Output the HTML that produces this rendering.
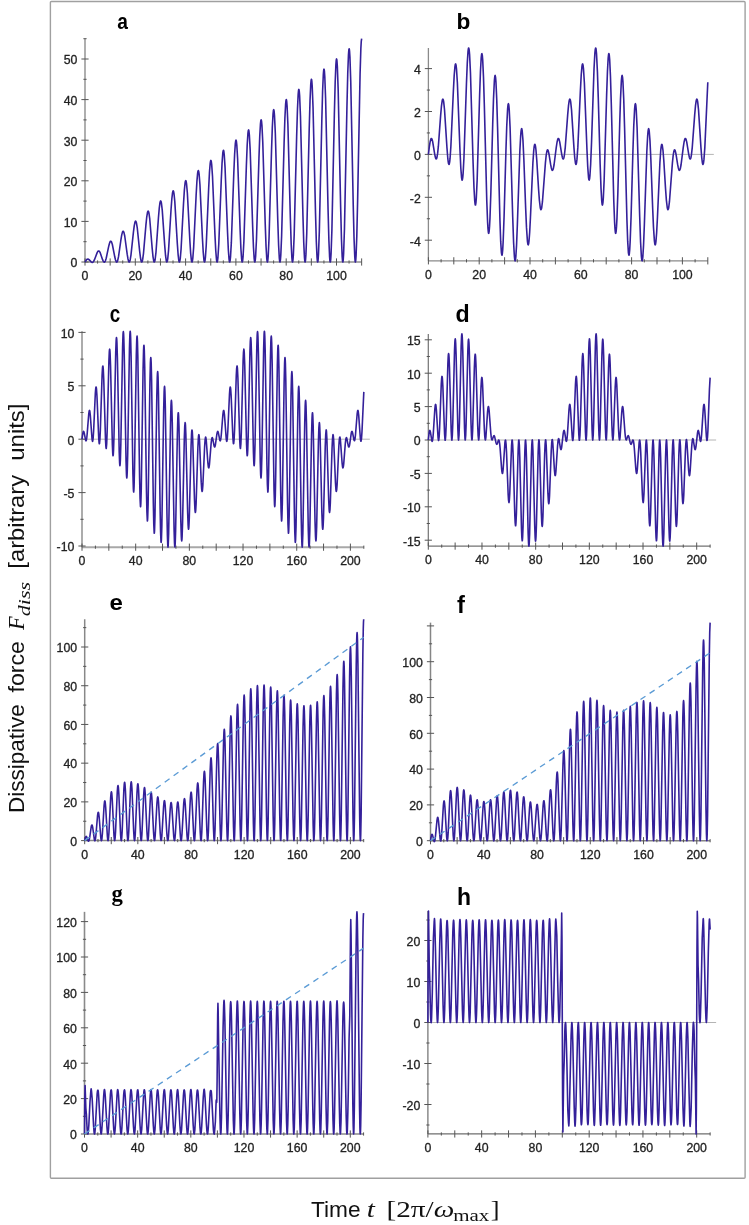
<!DOCTYPE html>
<html><head><meta charset="utf-8"><style>
html,body{margin:0;padding:0;background:#fff;}
svg{display:block;will-change:transform;}
text{font-family:"Liberation Sans",sans-serif;font-size:12.3px;fill:#222222;stroke:#222222;stroke-width:0.3px;}
text.let,text.ttl{stroke:none;}
text.let{font-weight:bold;font-size:23px;fill:#000;}
text.let.serif{font-family:"Liberation Serif",serif;}

.ttl{font-family:"Liberation Sans",sans-serif;font-size:22px;fill:#111;}
.ttl.it,.ttl .it{font-family:"Liberation Serif",serif;font-style:italic;font-size:24px;}
.ttl.sr{font-family:"Liberation Serif",serif;font-size:24px;}
.ttl.sub{font-size:17.5px;}
</style></head><body>
<svg width="749" height="1225" viewBox="0 0 749 1225">
<rect x="0" y="0" width="749" height="1225" fill="#fff"/>
<rect x="50.4" y="1.5" width="694.7" height="1176.8" rx="1" fill="none" stroke="#a0a0a0" stroke-width="1.4"/>
<g id="pa"><line x1="85" y1="262" x2="361.65" y2="262" stroke="#ababab" stroke-width="1.9"/><line x1="85" y1="38.7" x2="85" y2="262.42" stroke="#ababab" stroke-width="1.9"/><path d="M85 258.4V265.6M97.58 260.4V263.6M110.15 258.4V265.6M122.72 260.4V263.6M135.3 258.4V265.6M147.88 260.4V263.6M160.45 258.4V265.6M173.03 260.4V263.6M185.6 258.4V265.6M198.18 260.4V263.6M210.75 258.4V265.6M223.33 260.4V263.6M235.9 258.4V265.6M248.47 260.4V263.6M261.05 258.4V265.6M273.62 260.4V263.6M286.2 258.4V265.6M298.77 260.4V263.6M311.35 258.4V265.6M323.93 260.4V263.6M336.5 258.4V265.6M349.07 260.4V263.6M361.65 258.4V265.6M81.4 262H88.6M83.4 241.7H86.6M81.4 221.4H88.6M83.4 201.1H86.6M81.4 180.8H88.6M83.4 160.5H86.6M81.4 140.2H88.6M83.4 119.9H86.6M81.4 99.6H88.6M83.4 79.3H86.6M81.4 59H88.6M83.4 38.7H86.6" stroke="#555555" stroke-width="1" fill="none"/><text x="85" y="280" text-anchor="middle">0</text><text x="135.3" y="280" text-anchor="middle">20</text><text x="185.6" y="280" text-anchor="middle">40</text><text x="235.9" y="280" text-anchor="middle">60</text><text x="286.2" y="280" text-anchor="middle">80</text><text x="336.5" y="280" text-anchor="middle">100</text><text x="77.4" y="267.3" text-anchor="end">0</text><text x="77.4" y="226.7" text-anchor="end">10</text><text x="77.4" y="186.1" text-anchor="end">20</text><text x="77.4" y="145.5" text-anchor="end">30</text><text x="77.4" y="104.9" text-anchor="end">40</text><text x="77.4" y="64.3" text-anchor="end">50</text><path d="M85.00 262.00 86.61 259.74 87.25 259.24 87.88 259.08 88.43 259.22 89.02 259.61 90.90 261.64 91.59 262.21 92.31 262.41 92.99 262.12 93.66 261.31 94.38 259.92 97.27 252.39 97.99 251.29 98.67 250.93 99.03 251.04 99.41 251.37 100.19 252.71 102.49 259.39 103.26 261.19 103.98 262.08 104.32 262.16 104.65 262.01 105.03 261.55 105.42 260.76 106.21 258.23 108.58 246.90 109.36 243.72 110.07 241.83 110.43 241.35 110.77 241.20 111.14 241.40 111.53 242.01 112.35 244.51 114.75 256.78 115.53 260.05 116.25 261.79 116.59 262.09 116.93 262.01 117.32 261.45 117.71 260.39 118.52 256.68 120.95 239.56 121.74 234.85 122.46 232.11 122.80 231.44 123.14 231.21 123.53 231.51 123.92 232.39 124.74 236.01 127.19 254.13 127.98 258.95 128.70 261.53 129.04 262.02 129.38 262.00 129.77 261.33 130.16 259.98 130.97 255.12 133.43 232.17 134.22 225.93 134.94 222.32 135.27 221.44 135.61 221.15 136.00 221.54 136.39 222.70 137.22 227.53 139.68 251.36 140.47 257.73 141.19 261.22 141.52 261.94 141.70 262.05 141.86 262.00 142.25 261.26 142.64 259.65 143.47 253.58 145.93 224.93 146.73 217.01 147.45 212.51 147.79 211.42 148.13 211.05 148.52 211.53 148.91 212.97 149.74 218.96 152.20 248.64 152.99 256.56 153.71 260.93 154.05 261.86 154.23 262.04 154.39 262.00 154.78 261.17 155.17 259.28 156.00 252.05 158.46 217.51 159.27 208.03 159.98 202.66 160.32 201.36 160.66 200.93 160.85 201.07 161.05 201.52 161.44 203.25 162.27 210.42 164.74 245.87 165.54 255.47 166.26 260.69 166.60 261.81 166.78 262.02 166.94 262.00 167.33 261.03 167.72 258.83 168.55 250.39 171.01 210.05 171.82 199.02 172.52 192.87 172.86 191.33 173.20 190.80 173.39 190.95 173.59 191.46 173.99 193.54 174.82 201.91 177.29 243.14 178.09 254.31 178.80 260.34 179.14 261.71 179.31 262.00 179.48 262.00 179.87 260.99 180.27 258.44 181.10 248.82 183.56 202.71 184.37 190.09 185.08 182.96 185.42 181.24 185.76 180.67 185.95 180.86 186.15 181.46 186.54 183.77 187.37 193.30 189.84 240.30 190.64 253.07 191.36 260.09 191.70 261.66 191.87 261.99 192.04 262.00 192.43 260.86 192.82 258.11 193.65 247.35 196.13 195.22 196.93 181.06 197.63 173.17 197.97 171.20 198.31 170.54 198.50 170.73 198.70 171.39 199.11 174.06 199.94 184.80 202.40 237.61 203.21 251.94 203.92 259.83 204.26 261.59 204.44 261.98 204.60 262.00 204.99 260.74 205.38 257.69 206.21 245.74 208.69 187.79 209.49 172.06 210.20 163.31 210.54 161.13 210.88 160.40 211.06 160.62 211.27 161.35 211.67 164.33 212.50 176.26 214.96 234.86 215.77 250.77 216.48 259.54 216.82 261.52 217.00 261.96 217.16 262.00 217.55 260.65 217.94 257.31 218.77 244.18 221.25 180.41 222.05 163.10 222.76 153.46 223.10 151.07 223.44 150.26 223.63 150.50 223.83 151.30 224.23 154.57 225.06 167.67 227.53 232.05 228.34 249.78 229.05 259.24 229.39 261.45 229.56 261.94 229.73 262.00 230.12 260.56 230.51 256.95 231.34 242.66 233.81 173.09 234.62 154.18 235.32 143.64 235.66 141.02 236.00 140.11 236.19 140.37 236.39 141.24 236.79 144.78 237.62 159.03 240.09 229.19 240.90 248.55 241.61 258.92 241.95 261.36 242.12 261.92 242.29 262.00 242.68 260.49 243.08 256.45 243.91 240.90 246.37 165.83 247.19 145.04 247.90 133.70 248.24 130.90 248.41 130.18 248.58 129.97 248.76 130.27 248.97 131.24 249.36 134.96 250.19 150.34 252.66 226.64 253.47 247.28 254.17 258.57 254.51 261.26 254.69 261.89 254.85 262.00 255.24 260.43 255.64 256.13 256.47 239.45 258.95 158.22 259.75 136.18 260.46 123.91 260.80 120.86 261.14 119.83 261.33 120.13 261.53 121.15 261.93 125.30 262.76 141.94 265.22 223.70 266.04 246.25 266.75 258.35 267.09 261.22 267.26 261.89 267.43 262.00 267.82 260.29 268.21 255.84 269.04 238.06 271.51 151.04 272.33 127.06 273.03 113.98 273.37 110.75 273.55 109.93 273.71 109.68 273.90 110.03 274.10 111.15 274.49 115.45 275.32 133.18 277.80 221.12 278.60 244.92 279.32 258.14 279.66 261.18 279.84 261.88 280.00 261.99 280.39 260.15 280.78 255.37 281.61 236.34 284.09 143.47 284.89 118.26 285.60 104.22 285.94 100.73 286.28 99.54 286.46 99.88 286.67 101.04 287.07 105.77 287.90 124.75 290.36 218.09 291.18 243.88 291.88 257.75 292.22 261.06 292.40 261.85 292.56 262.00 292.95 260.11 293.36 254.90 294.19 234.62 296.65 136.37 297.47 109.15 298.17 94.30 298.51 90.62 298.69 89.68 298.85 89.39 299.04 89.78 299.24 91.03 299.63 95.88 300.46 115.93 302.94 215.49 303.75 242.83 304.46 257.52 304.80 261.02 304.97 261.84 305.14 262.00 305.53 259.98 305.92 254.65 306.75 233.32 309.22 128.83 310.03 100.41 310.75 84.38 311.09 80.52 311.26 79.53 311.43 79.24 311.61 79.67 311.82 81.01 312.21 86.18 313.04 107.47 315.51 212.89 316.32 241.42 317.02 257.11 317.36 260.88 317.54 261.80 317.70 262.00 317.89 261.46 318.09 259.97 318.49 254.20 319.32 231.62 321.80 121.28 322.60 91.33 323.31 74.66 323.65 70.51 323.82 69.43 323.99 69.10 324.18 69.51 324.38 70.88 324.78 76.49 325.61 99.02 328.07 209.74 328.89 240.35 329.60 256.87 329.94 260.83 330.11 261.79 330.28 262.00 330.46 261.42 330.67 259.84 331.07 253.74 331.90 229.93 334.36 114.30 335.18 82.24 335.88 64.75 336.22 60.41 336.40 59.29 336.56 58.95 336.75 59.40 336.95 60.86 337.36 66.80 338.19 90.56 340.65 207.11 341.47 239.29 342.17 256.63 342.51 260.79 342.69 261.79 342.85 262.00 343.04 261.38 343.24 259.71 343.63 253.55 344.46 228.71 346.94 106.78 347.75 73.16 348.46 54.84 348.80 50.31 348.97 49.15 349.14 48.80 349.33 49.29 349.53 50.84 349.92 56.84 350.75 81.62 353.22 204.48 354.04 238.23 354.75 256.39 355.09 260.74 355.26 261.78 355.43 262.00 355.76 260.12 356.10 255.15 356.81 235.66 357.63 200.28 360.07 74.14 360.88 48.00 361.27 41.28 361.65 38.70" stroke="#34209a" stroke-width="1.6" fill="none" stroke-linejoin="round"/><text id="La" class="let" transform="translate(117.17,28.54) scale(0.8333,0.9715)" x="0" y="0">a</text></g>
<g id="pb"><line x1="428.4" y1="154.4" x2="713.8" y2="154.4" stroke="#b4b4b4" stroke-width="1"/><line x1="428.4" y1="260.83" x2="707.8" y2="260.83" stroke="#8a8a8a" stroke-width="1.3"/><line x1="428.4" y1="47.97" x2="428.4" y2="260.83" stroke="#8a8a8a" stroke-width="1.3"/><path d="M428.4 257.23V264.43M441.1 259.23V262.43M453.8 257.23V264.43M466.5 259.23V262.43M479.2 257.23V264.43M491.9 259.23V262.43M504.6 257.23V264.43M517.3 259.23V262.43M530 257.23V264.43M542.7 259.23V262.43M555.4 257.23V264.43M568.1 259.23V262.43M580.8 257.23V264.43M593.5 259.23V262.43M606.2 257.23V264.43M618.9 259.23V262.43M631.6 257.23V264.43M644.3 259.23V262.43M657 257.23V264.43M669.7 259.23V262.43M682.4 257.23V264.43M695.1 259.23V262.43M707.8 257.23V264.43M424.8 240.2H432M426.8 218.75H430M424.8 197.3H432M426.8 175.85H430M424.8 154.4H432M426.8 132.95H430M424.8 111.5H432M426.8 90.05H430M424.8 68.6H432" stroke="#555555" stroke-width="1" fill="none"/><text x="428.4" y="278.83" text-anchor="middle">0</text><text x="479.2" y="278.83" text-anchor="middle">20</text><text x="530" y="278.83" text-anchor="middle">40</text><text x="580.8" y="278.83" text-anchor="middle">60</text><text x="631.6" y="278.83" text-anchor="middle">80</text><text x="682.4" y="278.83" text-anchor="middle">100</text><text x="420.8" y="245.5" text-anchor="end">-4</text><text x="420.8" y="202.6" text-anchor="end">-2</text><text x="420.8" y="159.7" text-anchor="end">0</text><text x="420.8" y="116.8" text-anchor="end">2</text><text x="420.8" y="73.9" text-anchor="end">4</text><path d="M428.40 154.40 429.38 146.51 430.11 141.85 430.80 139.18 431.14 138.57 431.47 138.46 431.77 138.74 432.06 139.37 432.69 141.81 434.69 154.04 435.42 157.53 435.82 158.60 436.19 158.95 436.54 158.63 436.90 157.63 437.62 153.41 438.37 146.19 440.64 115.40 441.42 106.46 442.18 100.78 442.55 99.45 442.73 99.17 442.90 99.14 443.30 99.94 443.69 101.94 444.52 109.73 446.98 147.96 447.79 158.28 448.19 161.69 448.57 163.75 448.94 164.47 449.11 164.35 449.29 163.91 449.69 161.82 450.08 158.20 450.90 146.05 453.37 90.99 454.18 75.65 454.94 66.52 455.31 64.40 455.49 63.97 455.67 63.92 456.07 65.28 456.49 68.83 457.37 82.69 459.96 149.80 460.81 168.01 461.59 177.92 461.97 179.91 462.16 180.14 462.33 179.88 462.73 177.70 463.12 173.35 463.96 157.48 466.45 83.69 467.27 63.16 468.02 51.41 468.39 48.64 468.57 48.06 468.75 48.00 469.17 49.89 469.59 54.61 470.48 73.21 473.10 162.95 473.98 187.80 474.77 201.47 475.15 204.48 475.34 205.04 475.52 204.99 475.91 202.92 476.30 198.20 477.14 180.22 479.64 94.55 480.47 70.94 481.22 57.51 481.59 54.36 481.77 53.72 481.94 53.66 482.31 55.41 482.69 59.85 483.48 76.89 484.33 105.03 486.79 201.26 487.61 222.51 487.99 228.79 488.36 232.35 488.56 233.22 488.75 233.32 489.16 231.25 489.56 226.14 490.00 217.64 490.88 191.92 492.70 124.39 493.50 98.86 494.36 80.75 494.77 76.57 494.97 75.63 495.18 75.47 495.56 77.29 495.94 81.82 496.74 99.50 497.58 127.56 499.94 220.35 500.70 241.41 501.42 252.83 501.84 255.12 501.95 255.19 502.06 255.03 502.28 254.07 502.71 249.66 503.16 241.57 504.09 216.32 505.93 150.92 506.73 126.55 507.60 109.14 508.02 104.92 508.22 103.96 508.42 103.72 508.63 104.21 508.83 105.42 509.24 109.94 510.10 127.99 512.72 217.35 513.60 242.59 514.39 256.53 514.77 259.86 514.96 260.64 515.15 260.83 515.50 259.69 515.84 256.70 516.55 245.12 517.36 224.75 519.84 151.32 520.68 135.45 521.07 131.10 521.47 128.92 521.64 128.66 521.82 128.86 522.19 130.69 522.95 140.14 523.82 158.37 525.67 208.41 526.49 227.38 527.41 241.03 527.85 244.16 528.07 244.81 528.29 244.86 528.62 243.85 528.96 241.42 529.66 232.55 530.44 217.54 532.90 162.75 533.72 150.60 534.11 146.98 534.51 144.89 534.69 144.45 534.86 144.33 535.22 145.00 535.58 146.85 535.96 150.01 536.78 160.27 538.56 189.02 539.37 200.12 540.26 207.78 540.69 209.40 540.91 209.67 541.13 209.57 541.44 208.78 541.76 207.26 542.45 201.71 545.43 162.61 546.18 155.39 546.90 151.17 547.25 150.19 547.59 149.85 547.95 150.14 548.33 151.10 549.08 154.54 550.59 164.14 551.26 167.70 551.98 169.97 552.33 170.34 552.67 170.21 553.00 169.62 553.34 168.52 554.07 164.74 556.26 147.36 557.04 142.25 557.77 139.25 558.13 138.59 558.49 138.46 558.78 138.76 559.07 139.41 559.71 141.87 561.65 153.82 562.32 157.15 562.66 158.26 562.99 158.85 563.31 158.91 563.62 158.48 564.01 157.16 564.42 154.88 565.24 147.59 567.68 114.90 568.47 105.97 569.20 100.66 569.56 99.42 569.74 99.16 569.90 99.14 570.30 99.94 570.69 101.94 571.53 109.88 573.95 147.59 574.74 157.76 575.45 163.27 575.80 164.35 575.96 164.47 576.13 164.33 576.55 162.74 576.96 159.40 577.83 147.40 580.39 90.44 581.22 75.05 581.96 66.42 582.31 64.40 582.49 63.97 582.67 63.92 583.07 65.28 583.49 68.83 584.37 82.69 586.95 149.49 587.77 167.34 588.51 177.28 588.86 179.58 589.04 180.06 589.22 180.10 589.58 178.81 589.93 175.72 590.67 163.94 591.52 142.86 594.03 68.46 594.87 53.16 595.27 49.35 595.65 47.97 595.86 48.23 596.08 49.25 596.51 53.55 597.42 71.87 598.26 97.39 600.13 163.77 601.01 188.38 601.79 201.74 602.17 204.59 602.36 205.07 602.54 204.94 602.94 202.69 603.33 197.81 604.16 179.87 606.63 94.96 607.46 71.24 608.19 57.81 608.55 54.57 608.73 53.80 608.89 53.62 609.08 54.03 609.27 55.11 609.67 59.47 610.47 76.54 611.33 105.03 613.79 201.26 614.61 222.51 614.99 228.79 615.36 232.35 615.56 233.22 615.75 233.32 616.16 231.25 616.56 226.14 617.00 217.64 617.88 191.92 619.70 124.39 620.50 98.86 621.36 80.75 621.77 76.57 621.97 75.63 622.18 75.47 622.56 77.29 622.94 81.82 623.74 99.50 624.58 127.56 626.94 220.35 627.70 241.41 628.42 252.83 628.84 255.12 628.95 255.19 629.06 255.03 629.28 254.07 629.71 249.66 630.16 241.57 631.09 216.32 632.93 150.92 633.73 126.55 634.60 109.14 635.02 104.92 635.22 103.96 635.42 103.72 635.63 104.21 635.83 105.42 636.24 109.94 637.10 127.99 639.72 217.35 640.59 242.29 641.38 256.38 641.76 259.78 641.95 260.60 642.14 260.83 642.48 259.76 642.83 256.84 643.55 245.12 644.36 224.75 646.84 151.32 647.68 135.45 648.07 131.10 648.47 128.92 648.64 128.66 648.83 128.89 649.20 130.78 649.96 140.35 650.83 158.68 652.66 208.08 653.48 227.13 654.40 240.90 654.83 244.05 655.04 244.76 655.26 244.89 655.59 243.97 655.93 241.64 656.64 232.75 657.43 217.81 659.91 162.52 660.75 150.32 661.14 146.80 661.53 144.81 661.70 144.43 661.88 144.33 662.23 145.05 662.96 150.01 663.78 160.27 665.56 189.02 666.37 200.12 667.26 207.78 667.69 209.40 667.91 209.67 668.13 209.57 668.44 208.78 668.76 207.26 669.45 201.71 672.43 162.61 673.18 155.39 673.90 151.17 674.25 150.19 674.59 149.85 674.95 150.14 675.33 151.10 676.08 154.54 677.59 164.14 678.26 167.70 678.98 169.97 679.33 170.34 679.67 170.21 680.00 169.62 680.34 168.52 681.07 164.74 683.26 147.36 684.04 142.25 684.77 139.25 685.13 138.59 685.49 138.46 685.78 138.76 686.07 139.41 686.71 141.87 688.65 153.82 689.32 157.15 689.66 158.26 689.99 158.85 690.31 158.91 690.62 158.48 691.01 157.16 691.42 154.88 692.24 147.59 694.68 114.90 695.47 105.97 696.20 100.66 696.56 99.42 696.74 99.16 696.90 99.14 697.30 99.94 697.69 101.94 698.53 109.88 700.95 147.59 701.74 157.76 702.43 163.15 702.76 164.29 702.92 164.47 703.09 164.39 703.51 162.96 703.94 159.65 704.82 147.62 707.80 82.25" stroke="#34209a" stroke-width="1.6" fill="none" stroke-linejoin="round"/><text id="Lb" class="let" transform="translate(456.50,29.00) scale(0.9858,0.9965)" x="0" y="0">b</text></g>
<g id="pc"><line x1="82" y1="439.2" x2="369.82" y2="439.2" stroke="#b4b4b4" stroke-width="1"/><line x1="82" y1="547.18" x2="363.82" y2="547.18" stroke="#a8a8a8" stroke-width="1.9"/><line x1="82" y1="331.22" x2="82" y2="547.18" stroke="#a8a8a8" stroke-width="1.9"/><path d="M82 543.58V550.78M95.42 545.58V548.78M108.84 543.58V550.78M122.26 545.58V548.78M135.68 543.58V550.78M149.1 545.58V548.78M162.52 543.58V550.78M175.94 545.58V548.78M189.36 543.58V550.78M202.78 545.58V548.78M216.2 543.58V550.78M229.62 545.58V548.78M243.04 543.58V550.78M256.46 545.58V548.78M269.88 543.58V550.78M283.3 545.58V548.78M296.72 543.58V550.78M310.14 545.58V548.78M323.56 543.58V550.78M336.98 545.58V548.78M350.4 543.58V550.78M363.82 545.58V548.78M78.4 546H85.6M80.4 519.3H83.6M78.4 492.6H85.6M80.4 465.9H83.6M78.4 439.2H85.6M80.4 412.5H83.6M78.4 385.8H85.6M80.4 359.1H83.6M78.4 332.4H85.6" stroke="#555555" stroke-width="1" fill="none"/><text x="82" y="565.18" text-anchor="middle">0</text><text x="135.68" y="565.18" text-anchor="middle">40</text><text x="189.36" y="565.18" text-anchor="middle">80</text><text x="243.04" y="565.18" text-anchor="middle">120</text><text x="296.72" y="565.18" text-anchor="middle">160</text><text x="350.4" y="565.18" text-anchor="middle">200</text><text x="74.4" y="551.3" text-anchor="end">-10</text><text x="74.4" y="497.9" text-anchor="end">-5</text><text x="74.4" y="444.5" text-anchor="end">0</text><text x="74.4" y="391.1" text-anchor="end">5</text><text x="74.4" y="337.7" text-anchor="end">10</text><path d="M82.00 439.20 82.88 433.11 83.23 431.78 83.58 431.39 83.89 431.80 84.21 432.90 85.61 440.20 85.81 440.68 86.01 440.81 86.37 440.08 86.75 437.91 87.14 434.25 88.72 414.25 89.11 411.34 89.30 410.65 89.48 410.45 89.68 410.77 89.89 411.72 90.31 415.40 91.99 438.55 92.39 441.07 92.57 441.34 92.76 440.98 93.17 437.81 93.61 431.18 95.32 393.42 95.71 388.54 95.90 387.34 96.08 386.97 96.29 387.54 96.51 389.22 96.96 396.02 98.71 438.13 99.10 442.90 99.29 443.74 99.39 443.79 99.48 443.59 99.90 439.51 100.35 430.12 102.09 374.97 102.48 368.11 102.67 366.45 102.85 365.95 103.06 366.81 103.28 369.22 103.73 379.06 105.51 439.85 105.91 446.87 106.10 448.29 106.19 448.50 106.28 448.36 106.71 443.59 107.15 431.78 108.91 360.59 109.30 351.86 109.48 349.75 109.67 349.14 109.88 350.26 110.09 353.34 110.55 365.89 112.35 444.36 112.75 453.46 112.93 455.41 113.03 455.76 113.12 455.70 113.33 454.08 113.54 450.29 113.99 436.32 115.74 351.18 116.13 340.75 116.32 338.25 116.50 337.52 116.72 338.85 116.94 342.68 117.40 357.76 119.20 451.77 119.60 462.75 119.78 465.18 119.88 465.68 119.97 465.70 120.18 464.00 120.39 459.79 120.84 443.99 122.60 347.04 122.98 335.20 123.17 332.37 123.35 331.55 123.57 333.08 123.79 337.45 124.25 354.61 126.06 461.88 126.45 474.45 126.65 477.38 126.84 478.02 127.04 476.20 127.25 471.78 127.70 454.53 129.45 348.15 129.84 335.20 130.03 332.10 130.21 331.22 130.43 332.91 130.65 337.71 131.10 356.51 132.92 473.93 133.31 487.85 133.51 491.18 133.69 492.05 133.90 490.27 134.11 485.69 134.55 467.50 136.32 353.92 136.71 340.21 136.89 336.96 137.08 336.06 137.26 337.50 137.46 341.49 137.85 356.95 139.61 478.45 140.05 498.47 140.46 506.52 140.55 506.75 140.65 506.32 140.85 503.50 141.26 489.58 143.07 369.50 143.52 350.90 143.73 346.47 143.94 345.20 144.13 346.67 144.32 350.78 144.72 366.70 146.47 491.26 146.91 512.04 147.32 520.60 147.41 520.91 147.51 520.56 147.71 517.71 148.12 503.68 149.93 382.19 150.38 363.34 150.60 358.82 150.80 357.49 150.99 358.93 151.19 363.01 151.59 379.27 153.33 503.08 153.76 523.79 154.17 532.78 154.27 533.21 154.37 532.92 154.57 530.24 154.98 516.27 156.80 396.21 157.25 377.54 157.46 373.03 157.67 371.65 157.86 373.08 158.06 377.10 158.46 393.03 160.18 512.30 160.59 532.25 160.99 541.56 161.10 542.28 161.14 542.35 161.20 542.24 161.41 539.99 161.84 526.59 163.66 410.20 164.11 392.14 164.32 387.74 164.54 386.34 164.73 387.70 164.94 391.71 165.34 407.36 167.00 516.35 167.39 535.34 167.76 545.28 167.98 547.17 168.21 545.82 168.67 533.33 170.53 422.88 170.97 405.90 171.19 401.72 171.40 400.33 171.62 401.77 171.83 405.98 172.28 422.89 174.09 529.87 174.49 542.86 174.69 545.95 174.87 546.85 175.05 545.75 175.24 542.78 175.61 531.09 177.36 434.41 177.81 418.61 178.02 414.40 178.23 412.70 178.32 412.72 178.42 413.22 178.60 415.65 178.99 426.38 180.82 521.21 181.29 536.32 181.51 539.85 181.73 540.87 181.93 539.62 182.14 536.19 182.58 522.45 184.35 436.81 184.74 426.31 185.11 422.63 185.29 423.17 185.48 425.35 185.86 434.46 187.65 512.51 188.11 525.06 188.32 528.14 188.53 529.26 188.72 528.65 188.90 526.54 189.29 518.01 191.07 445.95 191.53 434.19 191.74 431.18 191.96 429.94 192.14 430.27 192.32 431.83 192.70 438.87 194.47 499.34 194.92 509.18 195.14 511.59 195.35 512.45 195.53 511.95 195.71 510.37 196.10 503.74 197.88 447.58 198.34 438.19 198.57 435.71 198.78 434.65 198.87 434.60 198.96 434.77 199.14 435.80 199.51 440.50 201.24 482.38 201.69 489.18 201.91 490.86 202.12 491.43 202.30 491.09 202.48 489.97 202.86 485.30 204.63 446.48 205.09 439.93 205.53 437.17 205.70 437.09 205.87 437.55 206.24 440.11 207.89 463.00 208.31 466.68 208.52 467.63 208.72 467.95 208.89 467.77 209.07 467.12 209.45 464.46 211.13 443.43 211.56 439.72 211.97 437.86 212.13 437.61 212.29 437.62 212.64 438.38 213.99 445.47 214.31 446.59 214.61 447.01 214.79 446.93 214.98 446.58 215.36 445.08 216.88 434.19 217.25 432.35 217.60 431.48 217.78 431.39 217.96 431.54 218.33 432.57 219.84 440.30 220.04 440.71 220.22 440.81 220.57 440.08 220.95 437.91 221.34 434.25 222.88 414.58 223.24 411.74 223.57 410.52 223.68 410.45 223.79 410.55 224.01 411.28 224.47 414.89 226.22 438.79 226.59 441.09 226.77 441.34 226.96 440.98 227.37 437.81 227.81 431.18 229.50 393.75 229.86 388.96 230.21 387.01 230.32 387.00 230.43 387.27 230.66 388.76 231.12 395.37 232.93 438.46 233.31 442.95 233.50 443.76 233.59 443.79 233.68 443.59 234.10 439.51 234.55 430.12 236.27 375.43 236.64 368.61 236.99 365.98 237.11 366.04 237.22 366.49 237.44 368.65 237.91 378.32 239.73 440.17 240.11 446.95 240.30 448.31 240.40 448.50 240.48 448.36 240.91 443.59 241.35 431.78 243.09 360.98 243.47 352.27 243.83 349.16 244.05 349.95 244.27 352.85 244.74 365.42 246.56 444.57 246.95 453.46 247.13 455.41 247.23 455.76 247.32 455.70 247.53 454.08 247.74 450.29 248.19 436.32 249.94 351.42 250.31 341.13 250.67 337.53 250.89 338.55 251.11 342.08 251.58 357.19 253.41 452.02 253.80 462.86 253.99 465.23 254.08 465.70 254.18 465.68 254.39 463.90 254.59 459.79 255.04 443.99 256.79 347.31 257.16 335.62 257.35 332.65 257.53 331.55 257.75 332.83 257.97 336.94 258.43 353.97 260.26 462.16 260.66 474.59 260.85 477.38 261.04 478.02 261.24 476.20 261.45 471.78 261.90 454.53 263.65 348.15 264.04 335.35 264.22 332.17 264.40 331.22 264.59 332.46 264.79 336.10 265.19 350.79 266.95 465.48 267.38 484.37 267.79 491.87 267.89 492.05 267.99 491.60 268.18 488.82 268.59 475.33 270.40 359.52 270.85 341.56 271.07 337.28 271.28 336.07 271.50 338.00 271.71 343.03 272.16 362.65 274.03 489.94 274.50 504.70 274.72 506.75 274.95 505.28 275.32 495.52 275.70 476.54 277.34 365.68 277.75 350.01 277.95 346.30 278.14 345.20 278.33 346.67 278.52 350.78 278.92 366.70 280.67 491.26 281.11 512.04 281.52 520.60 281.61 520.91 281.71 520.56 281.91 517.71 282.32 503.68 284.13 382.19 284.58 363.34 284.80 358.82 285.00 357.49 285.19 358.93 285.39 363.01 285.79 379.27 287.53 503.08 287.96 523.79 288.37 532.78 288.47 533.21 288.57 532.92 288.77 530.24 289.18 516.27 291.00 396.21 291.45 377.54 291.66 373.03 291.87 371.65 292.06 373.08 292.26 377.10 292.66 393.03 294.38 512.30 294.79 532.25 295.19 541.56 295.30 542.28 295.34 542.35 295.40 542.24 295.61 539.99 296.04 526.59 297.86 410.20 298.31 392.14 298.52 387.74 298.74 386.34 298.93 387.70 299.14 391.71 299.54 407.36 301.20 516.35 301.59 535.34 301.96 545.28 302.18 547.17 302.41 545.82 302.87 533.33 304.73 422.88 305.17 405.90 305.39 401.72 305.60 400.33 305.82 401.77 306.03 405.98 306.48 422.89 308.29 529.87 308.68 542.71 308.88 545.88 309.07 546.85 309.25 545.83 309.43 542.92 309.81 531.09 311.56 434.41 312.01 418.61 312.21 414.50 312.42 412.72 312.52 412.70 312.61 413.17 312.80 415.54 313.19 426.38 315.02 521.21 315.48 536.17 315.70 539.78 315.92 540.88 316.10 539.97 316.28 537.40 316.66 526.98 318.41 442.08 318.86 428.11 319.27 422.72 319.37 422.63 319.46 422.95 319.65 424.84 320.04 433.83 321.86 512.98 322.33 525.43 322.55 528.39 322.76 529.26 322.94 528.44 323.12 526.23 323.51 517.42 325.24 446.84 325.69 434.94 326.11 430.06 326.20 429.90 326.30 430.09 326.49 431.45 326.87 438.23 328.69 499.89 329.15 509.56 329.37 511.83 329.59 512.43 329.95 509.96 330.32 503.12 332.05 448.28 332.50 438.89 332.92 434.81 333.01 434.61 333.10 434.64 333.29 435.45 333.68 440.05 335.48 483.03 335.94 489.64 336.16 491.11 336.27 491.39 336.38 491.40 336.73 489.50 337.10 484.65 338.79 447.22 339.23 440.59 339.64 437.42 339.83 437.06 340.01 437.31 340.38 439.61 342.13 463.51 342.59 467.12 342.81 467.85 342.92 467.95 343.03 467.88 343.36 466.66 343.72 463.82 345.26 444.15 345.65 440.49 346.03 438.32 346.38 437.59 346.56 437.69 346.76 438.10 348.27 445.83 348.64 446.86 348.82 447.01 349.00 446.92 349.35 446.05 349.72 444.21 351.24 433.32 351.62 431.82 351.81 431.47 351.99 431.39 352.29 431.81 352.61 432.93 353.96 440.02 354.31 440.78 354.47 440.79 354.63 440.54 355.04 438.68 355.47 434.97 357.15 413.94 357.53 411.28 357.71 410.63 357.88 410.45 358.08 410.77 358.29 411.72 358.71 415.40 360.36 438.29 360.72 440.82 360.89 441.30 361.06 441.24 361.51 438.54 361.96 432.04 363.82 391.87" stroke="#34209a" stroke-width="1.6" fill="none" stroke-linejoin="round"/><text id="Lc" class="let" transform="translate(109.74,322.00) scale(0.8182,1.0189)" x="0" y="0">c</text></g>
<g id="pd"><line x1="428.3" y1="440" x2="716.12" y2="440" stroke="#b4b4b4" stroke-width="1"/><line x1="428.3" y1="546.11" x2="710.12" y2="546.11" stroke="#727272" stroke-width="1.2"/><line x1="428.3" y1="333.89" x2="428.3" y2="546.11" stroke="#727272" stroke-width="1.2"/><path d="M428.3 542.51V549.71M441.72 544.51V547.71M455.14 542.51V549.71M468.56 544.51V547.71M481.98 542.51V549.71M495.4 544.51V547.71M508.82 542.51V549.71M522.24 544.51V547.71M535.66 542.51V549.71M549.08 544.51V547.71M562.5 542.51V549.71M575.92 544.51V547.71M589.34 542.51V549.71M602.76 544.51V547.71M616.18 542.51V549.71M629.6 544.51V547.71M643.02 542.51V549.71M656.44 544.51V547.71M669.86 542.51V549.71M683.28 544.51V547.71M696.7 542.51V549.71M710.12 544.51V547.71M424.7 540.2H431.9M426.7 523.5H429.9M424.7 506.8H431.9M426.7 490.1H429.9M424.7 473.4H431.9M426.7 456.7H429.9M424.7 440H431.9M426.7 423.3H429.9M424.7 406.6H431.9M426.7 389.9H429.9M424.7 373.2H431.9M426.7 356.5H429.9M424.7 339.8H431.9" stroke="#555555" stroke-width="1" fill="none"/><text x="428.3" y="564.11" text-anchor="middle">0</text><text x="481.98" y="564.11" text-anchor="middle">40</text><text x="535.66" y="564.11" text-anchor="middle">80</text><text x="589.34" y="564.11" text-anchor="middle">120</text><text x="643.02" y="564.11" text-anchor="middle">160</text><text x="696.7" y="564.11" text-anchor="middle">200</text><text x="420.7" y="545.5" text-anchor="end">-15</text><text x="420.7" y="512.1" text-anchor="end">-10</text><text x="420.7" y="478.7" text-anchor="end">-5</text><text x="420.7" y="445.3" text-anchor="end">0</text><text x="420.7" y="411.9" text-anchor="end">5</text><text x="420.7" y="378.5" text-anchor="end">10</text><text x="420.7" y="345.1" text-anchor="end">15</text><path d="M428.30 440.00 429.16 432.55 429.50 430.93 429.84 430.41 430.13 430.85 430.45 432.13 431.81 440.67 432.00 441.21 432.19 441.36 432.55 440.43 432.92 437.82 433.30 433.34 434.84 409.03 435.22 405.52 435.41 404.66 435.59 404.38 435.78 404.74 435.98 405.82 436.39 410.09 438.03 437.30 438.41 440.20 438.59 440.51 438.77 440.06 439.18 436.32 439.60 428.56 441.27 384.11 441.65 378.30 441.83 376.87 442.02 376.38 442.22 376.96 442.42 378.78 442.86 386.34 444.57 433.93 444.96 439.30 445.15 440.22 445.24 440.24 445.33 439.99 445.73 435.50 446.16 425.10 447.86 363.94 448.24 356.16 448.43 354.20 448.61 353.59 448.82 354.44 449.03 356.95 449.46 367.09 451.20 431.17 451.59 438.52 451.78 439.97 451.87 440.16 451.96 440.00 452.36 435.14 452.79 423.12 454.50 351.01 454.88 341.90 455.07 339.62 455.25 338.88 455.46 339.86 455.66 342.74 456.10 354.41 457.86 429.21 458.25 437.88 458.43 439.74 458.53 440.07 458.62 439.99 459.03 435.09 459.45 422.69 461.15 346.60 461.53 337.04 461.72 334.65 461.90 333.88 462.11 334.90 462.32 337.91 462.76 350.32 464.53 428.38 464.92 437.59 465.12 439.64 465.21 440.01 465.31 439.98 465.70 435.44 466.12 423.76 467.82 350.99 468.21 341.91 468.40 339.75 468.59 339.15 468.94 342.30 469.31 351.06 471.04 423.67 471.49 435.61 471.69 438.68 471.90 439.98 472.08 439.68 472.26 438.06 472.63 430.76 474.36 367.50 474.81 357.39 475.02 354.96 475.22 354.16 475.40 354.75 475.58 356.57 475.95 363.94 477.71 425.74 478.16 436.00 478.58 439.93 478.67 440.00 478.75 439.83 478.93 438.74 479.30 433.49 481.00 387.24 481.44 379.86 481.64 378.05 481.85 377.44 482.03 377.86 482.21 379.18 482.58 384.53 484.34 429.03 484.79 436.64 485.23 439.85 485.40 439.98 485.56 439.52 485.92 436.82 487.56 411.84 487.98 407.85 488.19 406.85 488.39 406.53 488.56 406.76 488.74 407.46 489.11 410.38 490.79 432.97 491.23 437.13 491.67 439.42 491.97 439.98 492.29 439.80 493.50 436.27 493.78 435.77 494.05 435.65 494.36 435.97 494.68 436.82 495.98 442.69 496.59 444.26 496.90 444.33 497.23 443.88 498.23 440.81 498.59 440.09 498.78 440.00 498.96 440.16 499.31 441.27 499.69 443.82 500.09 447.97 501.62 468.93 501.96 471.94 502.28 473.35 502.40 473.47 502.51 473.41 502.73 472.69 503.19 468.80 504.93 442.64 505.31 440.21 505.49 440.01 505.67 440.49 506.08 444.22 506.51 451.83 508.18 494.71 508.53 500.19 508.87 502.48 508.98 502.54 509.09 502.28 509.31 500.72 509.77 493.48 511.54 445.88 511.92 440.87 512.10 440.04 512.20 440.02 512.28 440.27 512.69 444.79 513.12 455.04 514.81 515.19 515.18 522.86 515.53 525.80 515.64 525.78 515.74 525.32 515.96 523.11 516.42 513.09 518.19 448.56 518.58 441.54 518.76 440.14 518.86 439.98 518.95 440.16 519.35 445.05 519.78 457.03 521.48 528.53 521.84 537.48 522.19 540.82 522.30 540.77 522.41 540.20 522.62 537.55 523.07 525.97 524.86 450.57 525.25 442.06 525.43 440.26 525.53 439.96 525.62 440.07 526.02 445.09 526.45 457.58 528.15 533.58 528.54 543.16 528.73 545.45 528.91 546.11 529.09 545.23 529.27 542.84 529.65 533.40 531.35 457.31 531.77 444.91 532.18 440.01 532.26 439.92 532.36 440.22 532.55 442.03 532.94 450.59 534.71 526.05 535.16 537.74 535.38 540.43 535.49 541.01 535.59 541.08 535.79 539.81 536.00 536.79 536.42 525.03 538.14 452.45 538.52 443.36 538.88 439.89 538.97 439.88 539.06 440.18 539.24 441.81 539.61 449.18 541.34 512.91 541.77 523.05 541.98 525.56 542.19 526.41 542.37 525.80 542.55 523.93 542.93 516.41 544.66 454.10 545.11 443.81 545.53 439.81 545.62 439.73 545.70 439.92 545.88 441.05 546.24 446.33 547.94 493.66 548.38 501.22 548.58 503.04 548.78 503.62 548.96 503.16 549.14 501.77 549.51 496.28 551.23 450.69 551.68 442.96 552.11 439.64 552.27 439.52 552.44 440.03 552.80 443.01 554.41 469.91 554.82 474.18 555.02 475.26 555.21 475.62 555.39 475.36 555.56 474.56 555.93 471.28 557.56 445.85 557.98 441.29 558.39 439.01 558.54 438.69 558.70 438.66 559.04 439.51 560.35 447.83 560.66 449.13 560.96 449.59 561.13 449.47 561.31 449.03 561.68 447.19 563.16 433.91 563.53 431.63 563.86 430.54 564.03 430.41 564.20 430.56 564.57 431.74 566.04 440.79 566.23 441.26 566.41 441.35 566.76 440.40 567.12 437.76 567.51 433.25 569.00 409.52 569.35 406.03 569.67 404.49 569.78 404.38 569.89 404.48 570.10 405.30 570.55 409.47 572.25 437.52 572.62 440.22 572.80 440.50 572.97 440.06 573.38 436.32 573.80 428.56 575.45 384.51 575.81 378.82 576.15 376.45 576.26 376.40 576.36 376.69 576.58 378.33 577.03 385.75 578.79 434.31 579.17 439.35 579.35 440.22 579.44 440.24 579.53 439.99 579.93 435.50 580.36 425.10 582.05 364.29 582.41 356.64 582.76 353.64 582.86 353.65 582.97 354.10 583.19 356.34 583.64 366.29 585.41 431.34 585.79 438.52 585.98 439.97 586.07 440.16 586.16 440.00 586.56 435.14 586.99 423.12 588.69 351.21 589.06 342.24 589.41 338.92 589.51 338.99 589.62 339.57 589.84 342.26 590.29 353.95 592.06 429.41 592.45 437.97 592.64 439.78 592.74 440.08 592.83 439.97 593.23 434.95 593.65 422.44 595.35 346.60 595.74 336.93 595.93 334.59 596.11 333.89 596.29 334.72 596.47 337.06 596.86 346.63 598.56 422.67 598.98 435.05 599.38 439.95 599.47 440.04 599.57 439.74 599.75 437.94 600.14 429.43 601.92 354.25 602.37 342.56 602.59 339.85 602.80 339.17 603.00 340.39 603.21 343.49 603.64 355.21 605.36 427.59 605.74 436.56 606.10 439.98 606.28 439.68 606.46 438.06 606.83 430.76 608.56 367.50 609.01 357.39 609.22 354.96 609.42 354.16 609.60 354.75 609.78 356.57 610.15 363.94 611.91 425.74 612.36 436.00 612.78 439.93 612.87 440.00 612.95 439.83 613.13 438.74 613.50 433.49 615.20 387.24 615.64 379.86 615.84 378.05 616.05 377.44 616.23 377.86 616.41 379.18 616.78 384.53 618.54 429.03 618.99 436.64 619.43 439.85 619.60 439.98 619.76 439.52 620.12 436.82 621.76 411.84 622.18 407.85 622.39 406.85 622.59 406.53 622.76 406.76 622.94 407.46 623.31 410.38 624.99 432.97 625.43 437.13 625.87 439.42 626.17 439.98 626.49 439.80 627.70 436.27 627.98 435.77 628.25 435.65 628.56 435.97 628.88 436.82 630.18 442.69 630.79 444.26 631.10 444.33 631.43 443.88 632.43 440.81 632.79 440.09 632.98 440.00 633.16 440.16 633.51 441.27 633.89 443.82 634.29 447.97 635.82 468.93 636.16 471.94 636.48 473.35 636.60 473.47 636.71 473.41 636.93 472.69 637.39 468.80 639.13 442.64 639.51 440.21 639.69 440.01 639.87 440.49 640.28 444.22 640.71 451.83 642.38 494.71 642.73 500.19 643.07 502.48 643.18 502.54 643.29 502.28 643.51 500.72 643.97 493.48 645.74 445.88 646.12 440.87 646.30 440.04 646.40 440.02 646.48 440.27 646.89 444.79 647.32 455.04 649.01 515.19 649.38 522.86 649.73 525.80 649.84 525.78 649.94 525.32 650.16 523.11 650.62 513.09 652.39 448.56 652.78 441.54 652.96 440.14 653.06 439.98 653.15 440.16 653.55 445.05 653.98 457.03 655.68 528.53 656.04 537.48 656.39 540.82 656.50 540.77 656.61 540.20 656.82 537.55 657.27 525.97 659.06 450.57 659.45 442.06 659.63 440.26 659.73 439.96 659.82 440.07 660.22 445.09 660.65 457.58 662.35 533.58 662.73 543.05 662.92 545.40 663.10 546.11 663.28 545.29 663.47 542.96 663.85 533.40 665.55 457.56 665.97 445.05 666.36 440.05 666.46 439.92 666.55 440.19 666.74 441.94 667.14 450.59 668.91 526.05 669.36 537.74 669.58 540.43 669.79 541.09 670.14 537.76 670.51 528.79 672.20 457.11 672.63 445.00 673.03 440.03 673.12 439.84 673.22 440.00 673.40 441.41 673.79 448.66 675.56 513.51 676.01 523.56 676.22 525.85 676.33 526.34 676.44 526.37 676.78 523.46 677.15 515.71 678.84 454.90 679.27 444.50 679.67 440.01 679.76 439.76 679.85 439.78 680.03 440.65 680.41 445.69 682.17 494.25 682.62 501.67 682.84 503.31 682.94 503.60 683.05 503.55 683.39 501.18 683.75 495.49 685.39 451.59 685.82 443.77 686.22 439.97 686.39 439.50 686.57 439.75 686.94 442.41 688.65 470.53 689.10 474.70 689.31 475.52 689.42 475.62 689.53 475.51 689.85 473.97 690.20 470.48 691.69 446.75 692.08 442.24 692.44 439.60 692.79 438.65 692.97 438.74 693.16 439.21 694.63 448.26 695.00 449.44 695.17 449.59 695.34 449.46 695.67 448.37 696.04 446.09 697.52 432.81 697.89 430.97 698.07 430.53 698.24 430.41 698.54 430.87 698.85 432.17 700.16 440.49 700.50 441.34 700.66 441.31 700.81 440.99 701.22 438.71 701.64 434.15 703.27 408.72 703.64 405.44 703.81 404.64 703.99 404.38 704.18 404.74 704.38 405.82 704.79 410.09 706.40 436.99 706.76 439.97 706.93 440.48 707.09 440.36 707.49 437.45 707.91 430.59 709.45 388.95 710.12 377.67" stroke="#34209a" stroke-width="1.6" fill="none" stroke-linejoin="round"/><text id="Ld" class="let" transform="translate(455.43,322.00) scale(1.0083,1.0070)" x="0" y="0">d</text></g>
<g id="pe"><line x1="84.7" y1="840.6" x2="363.69" y2="840.6" stroke="#888888" stroke-width="1.5"/><line x1="84.7" y1="619.25" x2="84.7" y2="841.19" stroke="#888888" stroke-width="1.5"/><path d="M84.7 837V844.2M97.98 839V842.2M111.27 837V844.2M124.56 839V842.2M137.84 837V844.2M151.12 839V842.2M164.41 837V844.2M177.69 839V842.2M190.98 837V844.2M204.26 839V842.2M217.55 837V844.2M230.83 839V842.2M244.12 837V844.2M257.41 839V842.2M270.69 837V844.2M283.98 839V842.2M297.26 837V844.2M310.55 839V842.2M323.83 837V844.2M337.12 839V842.2M350.4 837V844.2M363.69 839V842.2M81.1 840.6H88.3M83.1 821.24H86.3M81.1 801.88H88.3M83.1 782.52H86.3M81.1 763.16H88.3M83.1 743.8H86.3M81.1 724.44H88.3M83.1 705.08H86.3M81.1 685.72H88.3M83.1 666.36H86.3M81.1 647H88.3M83.1 627.64H86.3" stroke="#555555" stroke-width="1" fill="none"/><text x="84.7" y="858.6" text-anchor="middle">0</text><text x="137.84" y="858.6" text-anchor="middle">40</text><text x="190.98" y="858.6" text-anchor="middle">80</text><text x="244.12" y="858.6" text-anchor="middle">120</text><text x="297.26" y="858.6" text-anchor="middle">160</text><text x="350.4" y="858.6" text-anchor="middle">200</text><text x="77.1" y="845.9" text-anchor="end">0</text><text x="77.1" y="807.18" text-anchor="end">20</text><text x="77.1" y="768.46" text-anchor="end">40</text><text x="77.1" y="729.74" text-anchor="end">60</text><text x="77.1" y="691.02" text-anchor="end">80</text><text x="77.1" y="652.3" text-anchor="end">100</text><path d="M84.70 840.60 85.55 837.36 85.89 836.66 86.22 836.43 86.51 836.62 86.83 837.18 88.17 840.89 88.55 841.19 88.91 840.79 89.27 839.65 89.65 837.69 91.18 827.06 91.56 825.51 91.91 825.00 92.11 825.15 92.31 825.62 92.72 827.51 94.34 839.44 94.72 840.70 94.90 840.82 95.08 840.62 95.47 838.94 95.89 835.49 97.55 815.65 97.93 813.08 98.11 812.46 98.29 812.25 98.49 812.51 98.70 813.34 99.13 816.73 100.81 837.91 101.19 840.28 101.38 840.70 101.56 840.61 101.96 838.53 102.39 833.79 104.08 805.58 104.46 802.03 104.64 801.17 104.82 800.88 105.03 801.26 105.23 802.40 105.66 807.06 107.38 836.52 107.76 839.93 107.95 840.60 108.04 840.68 108.13 840.60 108.53 838.22 108.97 832.35 110.66 797.61 111.04 793.26 111.22 792.17 111.40 791.82 111.61 792.30 111.81 793.70 112.25 799.48 113.97 835.39 114.36 839.61 114.54 840.50 114.64 840.65 114.73 840.59 115.14 837.99 115.56 831.50 117.26 792.06 117.64 787.16 117.82 785.97 118.00 785.57 118.20 786.08 118.41 787.63 118.85 794.06 120.59 834.67 120.97 839.40 121.16 840.43 121.34 840.60 121.75 837.97 122.17 831.13 123.87 789.21 124.25 784.00 124.44 782.70 124.61 782.29 124.82 782.85 125.03 784.51 125.47 791.32 127.21 834.16 127.60 839.27 127.78 840.38 127.97 840.59 128.37 838.00 128.79 831.10 130.49 788.75 130.87 783.53 131.05 782.27 131.23 781.84 131.41 782.26 131.59 783.51 131.97 788.71 133.68 831.21 134.11 838.11 134.32 839.90 134.53 840.61 134.70 840.33 134.89 839.17 135.27 834.25 137.00 792.62 137.44 785.98 137.65 784.37 137.85 783.81 138.03 784.20 138.21 785.40 138.59 790.39 140.31 831.46 140.74 838.13 140.95 839.87 141.15 840.59 141.33 840.37 141.52 839.32 141.90 834.76 143.63 795.79 144.07 789.58 144.28 788.04 144.49 787.54 144.67 787.93 144.85 789.07 145.23 793.76 146.95 832.04 147.38 838.26 147.58 839.89 147.79 840.59 147.97 840.41 148.16 839.47 148.53 835.33 150.27 799.76 150.71 794.08 150.92 792.66 151.12 792.20 151.30 792.55 151.49 793.63 151.87 797.93 153.58 832.68 154.01 838.39 154.42 840.57 154.61 840.46 154.79 839.64 155.18 835.88 156.92 803.66 157.36 798.54 157.57 797.27 157.77 796.86 157.95 797.17 158.14 798.15 158.52 802.04 160.23 833.33 160.65 838.48 161.06 840.56 161.24 840.51 161.43 839.78 161.83 836.34 163.58 806.75 164.02 802.10 164.23 800.95 164.44 800.58 164.62 800.90 164.81 801.82 165.20 805.58 166.85 833.54 167.26 838.27 167.64 840.45 167.84 840.60 168.05 840.03 168.47 836.75 170.25 808.42 170.69 803.99 170.90 802.88 171.11 802.52 171.31 802.88 171.52 803.94 171.96 808.31 173.77 836.95 174.23 840.26 174.45 840.64 174.67 840.21 175.02 837.81 175.40 833.28 177.00 807.06 177.40 803.28 177.59 802.33 177.78 802.00 177.99 802.36 178.20 803.48 178.64 807.96 180.40 836.55 180.80 839.92 181.00 840.57 181.10 840.65 181.19 840.57 181.59 838.48 182.01 833.56 183.71 803.62 184.09 799.83 184.28 798.90 184.46 798.61 184.66 799.01 184.88 800.25 185.31 805.19 187.05 836.12 187.43 839.70 187.61 840.51 187.79 840.63 188.00 839.98 188.21 838.43 188.65 832.68 190.38 797.82 190.75 793.58 190.93 792.55 191.11 792.20 191.32 792.66 191.53 794.08 191.97 799.79 193.69 835.38 194.06 839.51 194.24 840.45 194.41 840.65 194.63 839.93 194.84 838.16 195.28 831.31 197.02 789.58 197.40 784.61 197.58 783.37 197.76 782.95 197.93 783.36 198.11 784.59 198.49 789.60 200.21 832.07 200.63 838.64 200.84 840.23 201.04 840.66 201.22 840.05 201.41 838.46 201.79 832.38 203.54 781.91 203.98 773.91 204.19 771.96 204.39 771.29 204.57 771.79 204.75 773.27 205.12 779.31 206.84 830.20 207.26 838.16 207.47 840.11 207.67 840.66 207.85 839.96 208.04 838.09 208.42 830.87 210.17 770.59 210.61 761.03 210.81 758.69 211.02 757.89 211.20 758.47 211.38 760.24 211.75 767.43 213.47 828.28 213.90 837.71 214.10 840.01 214.30 840.65 214.48 839.87 214.67 837.69 215.05 829.24 216.80 758.44 217.24 747.24 217.44 744.51 217.65 743.58 217.86 744.49 218.07 747.34 218.51 758.79 220.22 829.84 220.59 838.11 220.76 840.11 220.94 840.64 221.15 839.39 221.36 836.05 221.81 822.90 223.55 742.02 223.92 732.44 224.10 730.07 224.28 729.28 224.46 730.09 224.64 732.49 225.01 742.19 226.73 823.81 227.16 836.65 227.37 839.73 227.57 840.64 227.77 839.37 227.99 835.74 228.43 821.14 230.18 730.13 230.55 719.43 230.73 716.79 230.91 715.91 231.11 717.13 231.32 720.66 231.76 735.26 233.49 826.75 233.85 837.30 234.03 839.89 234.20 840.63 234.41 839.23 234.62 835.23 235.07 819.15 236.81 719.84 237.18 708.14 237.36 705.26 237.54 704.32 237.74 705.65 237.95 709.52 238.39 725.46 240.11 825.27 240.49 837.00 240.67 839.81 240.84 840.62 241.04 839.13 241.26 834.83 241.70 817.89 243.44 711.73 243.81 699.24 243.99 696.16 244.17 695.15 244.37 696.56 244.58 700.68 245.02 717.66 246.75 824.30 247.12 836.75 247.30 839.73 247.48 840.61 247.69 838.97 247.89 834.57 248.33 816.81 250.07 706.22 250.44 693.14 250.62 689.91 250.80 688.83 251.00 690.28 251.21 694.56 251.65 712.21 253.38 823.31 253.76 836.55 253.94 839.67 254.12 840.61 254.32 838.96 254.53 834.45 254.97 816.24 256.69 703.42 257.07 689.99 257.25 686.65 257.42 685.51 257.63 686.96 257.84 691.47 258.28 709.58 260.02 822.92 260.39 836.42 260.57 839.62 260.75 840.61 260.96 838.98 261.16 834.48 261.60 816.54 263.33 702.91 263.70 689.48 263.88 686.16 264.06 685.05 264.24 686.17 264.42 689.50 264.80 703.25 266.51 815.76 266.94 834.03 267.15 838.73 267.35 840.57 267.53 839.87 267.71 836.82 268.10 823.48 269.85 710.56 270.28 692.76 270.49 688.46 270.70 687.01 270.88 688.12 271.06 691.41 271.43 704.98 273.15 815.93 273.58 834.00 273.79 838.69 273.98 840.55 274.16 839.93 274.35 837.01 274.74 824.05 276.48 713.82 276.92 696.41 277.13 692.18 277.33 690.74 277.51 691.80 277.69 694.98 278.07 708.16 279.78 816.31 280.22 834.02 280.42 838.65 280.62 840.54 280.71 840.53 280.81 839.94 280.99 837.09 281.38 824.51 283.12 717.67 283.56 700.84 283.77 696.77 283.98 695.40 284.15 696.44 284.34 699.69 284.72 712.62 286.43 817.08 286.85 834.03 287.26 840.52 287.35 840.55 287.44 840.03 287.63 837.35 288.02 825.05 289.77 721.68 290.21 705.37 290.41 701.41 290.62 700.06 290.80 701.05 290.98 704.17 291.37 716.93 293.06 817.41 293.48 833.83 293.88 840.44 293.97 840.59 294.06 840.21 294.26 837.73 294.66 825.85 296.42 724.75 296.85 708.91 297.06 705.08 297.27 703.78 297.45 704.84 297.64 707.96 298.03 720.83 299.68 816.54 300.08 832.76 300.46 840.05 300.56 840.57 300.66 840.48 300.87 838.41 301.29 826.76 303.07 726.45 303.50 710.82 303.71 707.03 303.92 705.74 304.12 706.99 304.33 710.74 304.77 726.28 306.57 827.55 307.02 839.18 307.24 840.61 307.46 839.15 307.81 830.98 308.19 815.14 309.79 722.91 310.19 709.65 310.38 706.35 310.57 705.25 310.78 706.55 310.98 710.35 311.42 726.03 313.19 826.24 313.59 837.99 313.79 840.34 313.89 840.61 313.99 840.32 314.38 833.41 314.79 817.19 316.47 718.70 316.86 706.03 317.04 702.91 317.22 701.90 317.43 703.18 317.64 707.20 318.08 723.35 319.83 825.65 320.22 837.60 320.41 840.13 320.50 840.59 320.60 840.50 321.00 833.82 321.43 816.77 323.13 712.60 323.51 699.75 323.70 696.54 323.88 695.53 324.08 696.93 324.29 701.02 324.73 717.89 326.47 824.47 326.85 837.12 327.04 839.97 327.22 840.57 327.42 838.62 327.63 833.89 328.06 815.85 329.79 704.13 330.17 690.62 330.35 687.37 330.53 686.30 330.73 687.80 330.94 692.16 331.38 710.14 333.11 823.32 333.48 836.55 333.66 839.71 333.83 840.62 334.04 838.93 334.25 834.05 334.70 814.48 336.44 693.64 336.81 679.37 336.99 675.83 337.17 674.64 337.35 675.83 337.53 679.37 337.90 693.73 339.63 815.18 340.06 834.38 340.26 839.09 340.47 840.63 340.65 839.31 340.83 835.34 341.21 819.64 342.96 688.63 343.40 667.94 343.60 662.92 343.81 661.22 343.99 662.51 344.17 666.35 344.54 681.88 346.27 813.19 346.70 833.91 346.91 838.99 347.11 840.63 347.29 839.18 347.47 835.08 347.85 818.25 349.60 676.76 350.03 654.28 350.25 648.67 350.45 646.89 350.66 648.77 350.86 654.26 351.30 676.86 353.03 818.66 353.40 835.40 353.58 839.43 353.75 840.62 353.93 839.03 354.11 834.58 354.49 816.41 356.24 664.33 356.68 640.33 356.88 634.52 357.09 632.56 357.29 634.55 357.50 640.41 357.94 664.61 359.67 817.26 360.04 835.10 360.22 839.37 360.40 840.62 360.58 838.88 360.76 833.85 361.14 814.15 362.85 654.58 363.28 628.84 363.49 622.00 363.69 619.25" stroke="#34209a" stroke-width="1.6" fill="none" stroke-linejoin="round"/><line x1="84.7" y1="840.6" x2="363.69" y2="637.32" stroke="#5b9bd5" stroke-width="1.35" stroke-dasharray="6 5"/><text id="Le" class="let" transform="translate(109.40,610.00) scale(1.0455,0.9715)" x="0" y="0">e</text></g>
<g id="pf"><line x1="430.5" y1="840.7" x2="710.12" y2="840.7" stroke="#858585" stroke-width="1.5"/><line x1="430.5" y1="622.64" x2="430.5" y2="841.61" stroke="#858585" stroke-width="1.5"/><path d="M430.5 837.1V844.3M443.81 839.1V842.3M457.13 837.1V844.3M470.44 839.1V842.3M483.76 837.1V844.3M497.07 839.1V842.3M510.39 837.1V844.3M523.71 839.1V842.3M537.02 837.1V844.3M550.34 839.1V842.3M563.65 837.1V844.3M576.97 839.1V842.3M590.28 837.1V844.3M603.6 839.1V842.3M616.91 837.1V844.3M630.23 839.1V842.3M643.54 837.1V844.3M656.86 839.1V842.3M670.17 837.1V844.3M683.49 839.1V842.3M696.8 837.1V844.3M710.12 839.1V842.3M426.9 840.7H434.1M428.9 822.8H432.1M426.9 804.9H434.1M428.9 787H432.1M426.9 769.1H434.1M428.9 751.2H432.1M426.9 733.3H434.1M428.9 715.4H432.1M426.9 697.5H434.1M428.9 679.6H432.1M426.9 661.7H434.1M428.9 643.8H432.1M426.9 625.9H434.1" stroke="#555555" stroke-width="1" fill="none"/><text x="430.5" y="858.7" text-anchor="middle">0</text><text x="483.76" y="858.7" text-anchor="middle">40</text><text x="537.02" y="858.7" text-anchor="middle">80</text><text x="590.28" y="858.7" text-anchor="middle">120</text><text x="643.54" y="858.7" text-anchor="middle">160</text><text x="696.8" y="858.7" text-anchor="middle">200</text><text x="422.9" y="846" text-anchor="end">0</text><text x="422.9" y="810.2" text-anchor="end">20</text><text x="422.9" y="774.4" text-anchor="end">40</text><text x="422.9" y="738.6" text-anchor="end">60</text><text x="422.9" y="702.8" text-anchor="end">80</text><text x="422.9" y="667" text-anchor="end">100</text><path d="M430.50 840.70 431.35 835.71 431.69 834.63 432.02 834.28 432.32 834.58 432.62 835.42 433.98 841.15 434.17 841.51 434.36 841.61 434.72 840.99 435.08 839.26 435.45 836.35 436.98 820.43 437.36 818.11 437.54 817.55 437.72 817.36 437.91 817.59 438.11 818.29 438.52 821.08 440.14 838.87 440.52 840.79 440.71 841.02 440.89 840.74 441.28 838.43 441.70 833.54 443.34 805.83 443.72 802.17 443.91 801.25 444.09 800.96 444.29 801.34 444.49 802.49 444.93 807.23 446.62 836.81 447.01 840.19 447.20 840.80 447.29 840.85 447.38 840.71 447.78 838.15 448.20 832.18 449.87 796.65 450.25 792.13 450.44 791.00 450.62 790.64 450.83 791.14 451.03 792.59 451.46 798.44 453.20 835.42 453.59 839.76 453.78 840.66 453.87 840.78 453.97 840.70 454.36 838.13 454.77 831.91 456.46 793.79 456.84 789.00 457.02 787.80 457.20 787.43 457.38 787.80 457.56 788.93 457.93 793.54 459.65 832.31 460.09 838.54 460.29 840.13 460.50 840.74 460.68 840.46 460.86 839.43 461.23 835.09 462.97 797.69 463.41 791.79 463.61 790.37 463.82 789.90 463.99 790.25 464.17 791.32 464.55 795.68 466.29 832.68 466.73 838.62 466.94 840.16 467.15 840.73 467.32 840.51 467.50 839.60 467.88 835.72 469.61 802.25 470.05 796.89 470.26 795.55 470.46 795.11 470.64 795.43 470.83 796.43 471.22 800.55 472.93 833.13 473.35 838.49 473.76 840.68 473.85 840.74 473.95 840.64 474.14 839.91 474.53 836.41 476.29 806.15 476.73 801.37 476.94 800.17 477.15 799.77 477.34 800.10 477.54 801.09 477.93 805.05 479.55 832.95 479.93 837.80 480.29 840.31 480.51 840.77 480.73 840.38 481.18 837.03 483.00 807.54 483.44 803.01 483.65 801.88 483.86 801.52 484.07 801.90 484.28 803.04 484.72 807.61 486.50 836.76 486.92 840.16 487.13 840.76 487.33 840.63 487.71 838.43 488.12 833.61 489.79 804.86 490.18 801.02 490.36 800.09 490.55 799.77 490.76 800.16 490.97 801.36 491.41 806.16 493.17 836.52 493.57 840.04 493.76 840.73 493.86 840.81 493.95 840.71 494.35 838.44 494.77 833.10 496.46 801.22 496.84 797.11 497.03 796.10 497.21 795.77 497.41 796.19 497.62 797.46 498.06 802.70 499.80 835.94 500.19 839.80 500.38 840.64 500.56 840.75 500.97 838.49 501.40 832.73 503.10 797.63 503.48 793.27 503.67 792.18 503.85 791.84 504.05 792.32 504.26 793.71 504.70 799.46 506.44 835.39 506.82 839.63 507.01 840.57 507.19 840.74 507.59 838.52 508.02 832.60 509.72 796.19 510.10 791.69 510.28 790.60 510.46 790.23 510.64 790.59 510.83 791.72 511.21 796.25 512.90 832.41 513.33 838.40 513.73 840.71 513.82 840.74 513.91 840.58 514.10 839.69 514.49 835.46 516.24 799.62 516.67 793.93 516.88 792.55 517.09 792.09 517.27 792.43 517.45 793.52 517.83 797.86 519.53 832.58 519.96 838.35 520.36 840.68 520.46 840.74 520.55 840.62 520.74 839.84 521.13 836.05 522.87 803.60 523.31 798.46 523.52 797.21 523.72 796.78 523.90 797.09 524.09 798.06 524.48 802.03 526.17 833.22 526.60 838.46 527.00 840.65 527.09 840.74 527.19 840.67 527.39 840.02 527.79 836.68 529.54 807.99 529.98 803.47 530.20 802.34 530.40 801.98 530.60 802.30 530.79 803.24 531.19 807.00 532.80 833.33 533.19 837.91 533.55 840.33 533.77 840.77 533.99 840.41 534.44 837.32 536.27 809.90 536.71 805.71 536.92 804.66 537.13 804.32 537.33 804.66 537.55 805.71 537.99 809.99 539.78 837.12 540.20 840.24 540.41 840.79 540.61 840.65 541.00 838.47 541.41 833.75 543.10 805.64 543.49 801.93 543.68 801.03 543.86 800.72 544.04 801.01 544.22 801.86 544.60 805.40 546.33 834.88 546.76 839.51 546.96 840.56 547.16 840.85 547.35 840.41 547.54 839.22 547.92 834.72 549.70 797.47 550.14 791.62 550.35 790.20 550.55 789.72 550.73 790.09 550.91 791.19 551.29 795.78 552.99 833.31 553.41 839.13 553.60 840.47 553.80 840.87 553.99 840.28 554.18 838.70 554.58 832.57 556.35 782.55 556.79 774.66 556.99 772.74 557.20 772.11 557.38 772.62 557.56 774.12 557.93 780.21 559.62 830.55 560.04 838.44 560.24 840.32 560.43 840.85 560.62 840.11 560.81 838.04 561.21 829.94 562.97 764.26 563.40 754.04 563.61 751.50 563.82 750.64 564.00 751.29 564.18 753.24 564.55 761.18 566.25 827.39 566.67 837.63 566.87 840.09 567.07 840.82 567.26 839.86 567.44 837.34 567.82 827.63 569.58 746.32 570.02 733.44 570.23 730.31 570.43 729.27 570.61 730.03 570.79 732.40 571.16 742.09 572.88 824.00 573.30 836.77 573.51 839.89 573.71 840.78 573.89 839.73 574.08 836.82 574.46 825.48 576.20 731.68 576.64 716.76 576.85 713.14 577.05 711.92 577.26 713.16 577.46 716.82 577.90 731.93 579.63 826.33 579.99 837.28 580.17 839.97 580.35 840.75 580.55 839.32 580.77 835.19 581.21 818.92 582.94 717.31 583.32 705.26 583.50 702.28 583.68 701.29 583.88 702.63 584.09 706.58 584.53 722.86 586.27 825.12 586.64 837.03 586.82 839.88 587.00 840.72 587.20 839.16 587.41 834.97 587.84 818.41 589.57 714.41 589.95 702.05 590.13 698.99 590.31 697.96 590.49 698.99 590.67 702.05 591.04 714.41 592.76 818.06 593.20 834.77 593.40 839.05 593.61 840.70 593.79 839.94 593.97 837.17 594.35 825.14 596.09 722.17 596.53 705.78 596.74 701.70 596.95 700.40 597.13 701.44 597.31 704.46 597.68 716.61 599.41 818.50 599.85 834.84 600.05 839.04 600.26 840.69 600.44 840.00 600.63 837.23 601.01 825.54 602.75 726.37 603.19 710.69 603.40 706.90 603.60 705.61 603.78 706.57 603.97 709.58 604.35 721.86 606.05 818.38 606.47 834.15 606.87 840.55 606.96 840.71 607.06 840.35 607.25 838.02 607.65 826.72 609.41 730.34 609.85 715.21 610.06 711.54 610.27 710.29 610.45 711.27 610.64 714.23 611.03 726.45 612.69 817.91 613.10 833.31 613.47 840.21 613.57 840.69 613.67 840.60 613.88 838.60 614.30 827.47 616.08 731.86 616.52 716.95 616.73 713.33 616.94 712.08 617.14 713.26 617.35 716.82 617.79 731.61 619.61 828.49 620.06 839.45 620.28 840.73 620.50 839.24 620.85 831.27 621.23 815.96 622.82 727.51 623.22 714.69 623.41 711.48 623.61 710.38 623.81 711.59 624.03 715.38 624.47 730.57 626.23 826.88 626.64 838.21 626.84 840.47 626.94 840.73 627.03 840.45 627.42 833.72 627.83 817.98 629.51 722.82 629.90 710.47 630.09 707.41 630.27 706.39 630.48 707.68 630.68 711.47 631.12 727.08 632.87 825.93 633.27 837.66 633.46 840.25 633.55 840.70 633.65 840.62 634.05 834.39 634.47 818.14 636.18 718.83 636.56 706.50 636.74 703.41 636.92 702.42 637.13 703.74 637.34 707.64 637.77 723.71 639.53 825.44 639.92 837.52 640.10 840.15 640.20 840.67 640.29 840.65 640.69 834.52 641.12 818.15 642.82 717.45 643.20 704.93 643.39 701.78 643.57 700.77 643.75 701.77 643.93 704.91 644.31 717.42 646.01 817.78 646.44 834.30 646.84 840.61 646.93 840.68 647.02 840.21 647.21 837.54 647.61 825.48 649.36 723.87 649.80 707.81 650.00 703.92 650.21 702.60 650.39 703.58 650.58 706.66 650.96 718.97 652.65 817.80 653.07 833.99 653.47 840.54 653.57 840.70 653.66 840.34 653.85 837.93 654.25 826.30 656.01 727.81 656.45 712.31 656.66 708.56 656.86 707.29 657.04 708.23 657.23 711.21 657.61 723.35 659.30 818.07 659.72 833.89 660.11 840.45 660.20 840.71 660.30 840.44 660.50 838.27 660.90 827.14 662.67 732.35 663.11 717.41 663.32 713.68 663.53 712.49 663.72 713.56 663.91 716.71 664.31 729.31 665.91 816.53 666.29 831.51 666.64 839.29 666.86 840.72 667.08 839.45 667.53 828.68 669.34 734.24 669.78 719.67 670.00 716.04 670.20 714.89 670.41 716.11 670.62 719.65 671.06 734.20 672.84 827.71 673.27 838.73 673.47 840.63 673.57 840.69 673.67 840.19 674.05 833.31 674.46 818.08 676.12 727.36 676.51 715.31 676.70 712.39 676.89 711.43 677.09 712.68 677.31 716.48 677.75 731.62 679.49 826.52 679.87 837.58 680.05 840.10 680.23 840.72 680.44 839.08 680.65 834.77 681.09 818.30 682.83 716.82 683.21 704.54 683.39 701.57 683.56 700.57 683.74 701.57 683.92 704.57 684.30 716.68 686.03 819.42 686.46 835.62 686.67 839.56 686.87 840.77 687.05 839.61 687.23 836.18 687.62 822.27 689.38 707.15 689.82 688.93 690.02 684.49 690.23 682.97 690.41 684.07 690.59 687.42 690.97 701.37 692.69 816.98 693.12 834.97 693.32 839.41 693.52 840.77 693.70 839.44 693.89 835.52 694.28 819.66 696.03 688.67 696.47 668.06 696.68 663.08 696.89 661.42 697.07 662.75 697.25 666.63 697.62 682.28 699.34 813.28 699.77 834.14 699.98 839.20 700.18 840.76 700.36 839.28 700.54 834.87 700.92 817.40 702.67 670.89 703.11 647.58 703.32 641.90 703.52 639.94 703.70 641.34 703.88 645.60 704.26 662.97 705.99 810.30 706.42 833.43 706.63 839.03 706.83 840.75 707.01 839.10 707.19 834.23 707.58 814.55 709.29 657.78 709.72 632.24 710.12 622.64" stroke="#34209a" stroke-width="1.6" fill="none" stroke-linejoin="round"/><line x1="430.5" y1="840.7" x2="710.12" y2="652.75" stroke="#5b9bd5" stroke-width="1.35" stroke-dasharray="6 5"/><text id="Lf" class="let" transform="translate(456.97,612.52) scale(1.0328,1.0070)" x="0" y="0">f</text></g>
<g id="pg"><line x1="84.5" y1="1134" x2="363.59" y2="1134" stroke="#8a8a8a" stroke-width="1.6"/><line x1="84.5" y1="911.85" x2="84.5" y2="1134.06" stroke="#8a8a8a" stroke-width="1.6"/><path d="M84.5 1130.4V1137.6M97.79 1132.4V1135.6M111.08 1130.4V1137.6M124.37 1132.4V1135.6M137.66 1130.4V1137.6M150.95 1132.4V1135.6M164.24 1130.4V1137.6M177.53 1132.4V1135.6M190.82 1130.4V1137.6M204.11 1132.4V1135.6M217.4 1130.4V1137.6M230.69 1132.4V1135.6M243.98 1130.4V1137.6M257.27 1132.4V1135.6M270.56 1130.4V1137.6M283.85 1132.4V1135.6M297.14 1130.4V1137.6M310.43 1132.4V1135.6M323.72 1130.4V1137.6M337.01 1132.4V1135.6M350.3 1130.4V1137.6M363.59 1132.4V1135.6M80.9 1134H88.1M82.9 1116.3H86.1M80.9 1098.6H88.1M82.9 1080.9H86.1M80.9 1063.2H88.1M82.9 1045.5H86.1M80.9 1027.8H88.1M82.9 1010.1H86.1M80.9 992.4H88.1M82.9 974.7H86.1M80.9 957H88.1M82.9 939.3H86.1M80.9 921.6H88.1" stroke="#555555" stroke-width="1" fill="none"/><text x="84.5" y="1152" text-anchor="middle">0</text><text x="137.66" y="1152" text-anchor="middle">40</text><text x="190.82" y="1152" text-anchor="middle">80</text><text x="243.98" y="1152" text-anchor="middle">120</text><text x="297.14" y="1152" text-anchor="middle">160</text><text x="350.3" y="1152" text-anchor="middle">200</text><text x="76.9" y="1139.3" text-anchor="end">0</text><text x="76.9" y="1103.9" text-anchor="end">20</text><text x="76.9" y="1068.5" text-anchor="end">40</text><text x="76.9" y="1033.1" text-anchor="end">60</text><text x="76.9" y="997.7" text-anchor="end">80</text><text x="76.9" y="962.3" text-anchor="end">100</text><text x="76.9" y="926.9" text-anchor="end">120</text><path d="M84.50 1134.00 84.83 1096.64 85.10 1085.58 85.84 1108.00 86.37 1114.00 87.12 1129.65 87.46 1132.55 87.88 1134.05 88.06 1133.67 88.25 1132.37 88.85 1125.03 89.98 1101.96 90.83 1090.79 91.14 1088.85 91.46 1090.54 92.16 1098.46 93.55 1125.51 94.05 1131.99 94.25 1133.46 94.47 1134.00 94.68 1133.67 94.90 1132.53 95.30 1128.13 97.11 1094.20 97.45 1091.22 97.67 1090.42 97.90 1090.11 98.09 1090.37 98.26 1091.21 98.59 1095.03 100.44 1129.39 100.92 1133.48 101.15 1134.02 101.37 1133.54 101.73 1130.61 102.15 1124.87 103.66 1096.24 104.09 1091.03 104.26 1089.87 104.44 1089.47 104.61 1089.87 104.81 1091.10 105.29 1096.17 106.92 1126.82 107.36 1132.20 107.56 1133.50 107.76 1134.00 107.98 1133.67 108.19 1132.51 108.61 1127.74 110.38 1094.70 110.75 1091.19 110.95 1090.23 111.16 1089.89 111.35 1090.22 111.53 1091.23 111.91 1095.70 113.74 1129.50 114.22 1133.52 114.44 1134.01 114.66 1133.53 115.01 1130.73 115.41 1125.30 116.99 1095.54 117.38 1091.02 117.55 1089.96 117.72 1089.61 117.91 1089.99 118.11 1091.12 118.55 1095.64 120.22 1126.95 120.64 1132.15 120.84 1133.46 121.04 1134.00 121.25 1133.72 121.47 1132.59 121.90 1127.71 123.67 1094.79 124.05 1091.10 124.25 1090.13 124.44 1089.80 124.64 1090.17 124.82 1091.28 125.22 1096.06 127.03 1129.47 127.51 1133.52 127.73 1134.01 127.95 1133.53 128.30 1130.76 128.69 1125.51 130.29 1095.29 130.67 1091.01 130.84 1090.01 131.01 1089.68 131.21 1090.06 131.41 1091.20 131.83 1095.51 133.49 1126.66 133.90 1131.86 134.29 1133.95 134.38 1134.01 134.48 1133.89 134.67 1133.16 135.06 1129.55 136.84 1096.50 137.28 1091.53 137.51 1090.21 137.73 1089.75 137.91 1090.07 138.08 1091.05 138.44 1095.12 140.07 1125.72 140.44 1130.84 140.80 1133.52 141.02 1134.01 141.24 1133.52 141.71 1129.46 143.50 1096.42 143.92 1091.32 144.11 1090.12 144.31 1089.73 144.52 1090.19 144.75 1091.52 145.20 1096.61 146.99 1129.70 147.39 1133.33 147.59 1133.97 147.70 1134.00 147.80 1133.83 148.17 1131.49 148.57 1126.25 150.19 1095.59 150.61 1091.24 150.82 1090.10 151.02 1089.71 151.19 1090.03 151.36 1091.01 151.74 1095.25 153.35 1125.60 153.73 1130.76 154.09 1133.53 154.31 1134.01 154.53 1133.52 155.00 1129.47 156.80 1096.19 157.21 1091.31 157.40 1090.15 157.59 1089.77 157.81 1090.21 158.04 1091.50 158.48 1096.39 160.26 1129.46 160.63 1133.03 160.82 1133.84 161.00 1133.99 161.40 1132.04 161.82 1126.87 163.49 1095.54 163.91 1091.19 164.11 1090.06 164.30 1089.66 164.47 1089.98 164.65 1091.03 165.04 1095.48 166.63 1125.49 167.02 1130.75 167.38 1133.53 167.60 1134.01 167.82 1133.49 168.29 1129.49 170.10 1096.05 170.50 1091.30 170.69 1090.18 170.88 1089.82 171.08 1090.15 171.28 1091.11 171.66 1094.78 173.42 1127.62 173.85 1132.53 174.06 1133.69 174.27 1134.00 174.48 1133.47 174.68 1132.15 175.11 1126.86 176.78 1095.59 177.21 1091.09 177.40 1089.99 177.59 1089.61 177.76 1089.96 177.94 1091.05 178.35 1095.71 179.92 1125.37 180.31 1130.74 180.67 1133.53 180.89 1134.01 181.11 1133.52 181.57 1129.59 183.41 1095.69 183.80 1091.23 183.98 1090.22 184.18 1089.89 184.38 1090.23 184.57 1091.13 184.94 1094.63 186.71 1127.64 187.14 1132.53 187.35 1133.69 187.56 1134.01 187.76 1133.50 187.97 1132.14 188.41 1126.75 190.05 1095.93 190.50 1091.08 190.69 1089.91 190.87 1089.52 191.05 1089.89 191.23 1091.09 191.67 1096.24 193.19 1125.04 193.60 1130.71 193.96 1133.54 194.18 1134.01 194.40 1133.51 194.86 1129.63 196.71 1095.38 197.08 1091.25 197.27 1090.32 197.47 1090.03 197.68 1090.32 197.87 1091.13 198.21 1094.25 200.00 1127.79 200.42 1132.49 200.64 1133.68 200.85 1134.01 201.05 1133.51 201.26 1132.11 201.73 1126.21 203.28 1096.91 203.80 1090.95 203.99 1089.68 204.16 1089.28 204.33 1089.74 204.52 1091.18 205.09 1098.13 206.41 1123.94 206.88 1130.57 207.25 1133.56 207.48 1134.00 207.73 1133.29 208.23 1128.70 210.15 1092.86 210.44 1090.90 210.59 1090.67 210.95 1090.64 211.13 1090.81 211.28 1091.40 211.55 1094.34 213.37 1129.31 213.75 1132.75 213.99 1133.80 214.19 1134.03 214.53 1132.06 215.38 1121.58 216.16 1100.58 216.33 1099.84 216.68 1102.34 216.85 1099.42 217.12 1080.34 217.66 1015.42 217.93 1003.27 218.16 1010.42 218.70 1048.00 219.91 1115.31 220.32 1129.05 220.55 1132.90 220.76 1134.01 220.94 1132.89 221.11 1129.81 221.50 1116.89 223.07 1028.04 223.64 1006.55 223.85 1001.82 224.04 1000.35 224.22 1001.51 224.40 1005.02 224.86 1020.10 226.50 1112.05 226.95 1128.57 227.15 1132.57 227.35 1133.99 227.57 1132.93 227.78 1129.36 228.20 1114.87 229.98 1015.68 230.34 1005.22 230.52 1002.58 230.71 1001.67 230.92 1002.70 231.12 1005.97 231.51 1019.71 233.35 1121.02 233.81 1132.58 234.03 1134.01 234.25 1132.56 234.60 1124.16 235.00 1107.93 236.55 1019.45 236.96 1005.48 237.15 1002.11 237.34 1000.97 237.51 1002.01 237.70 1005.11 238.11 1017.80 239.80 1112.75 240.24 1128.60 240.44 1132.55 240.64 1133.99 240.82 1133.29 241.01 1130.61 241.38 1119.54 243.15 1020.96 243.57 1006.39 243.79 1002.71 244.00 1001.43 244.21 1002.58 244.41 1006.07 244.82 1020.46 246.64 1120.96 247.10 1132.59 247.32 1134.00 247.54 1132.55 247.89 1124.42 248.27 1108.59 249.85 1018.76 250.25 1005.45 250.44 1002.20 250.62 1001.11 250.81 1002.17 251.00 1005.24 251.39 1017.43 253.09 1112.78 253.52 1128.45 253.73 1132.45 253.93 1133.98 254.11 1133.35 254.29 1130.74 254.67 1119.50 256.43 1021.32 256.86 1006.42 257.08 1002.65 257.29 1001.34 257.50 1002.54 257.70 1006.10 258.12 1021.12 259.93 1120.94 260.39 1132.59 260.61 1134.00 260.83 1132.55 261.18 1124.44 261.56 1108.59 263.15 1018.42 263.54 1005.44 263.73 1002.24 263.91 1001.18 264.10 1002.21 264.29 1005.22 264.68 1017.37 266.37 1112.49 266.80 1128.11 267.20 1133.93 267.29 1133.95 267.38 1133.47 267.57 1130.99 267.96 1119.74 269.72 1021.66 270.15 1006.44 270.37 1002.62 270.58 1001.28 270.78 1002.43 270.99 1006.13 271.41 1021.15 273.22 1120.92 273.68 1132.60 273.90 1134.00 274.12 1132.54 274.47 1124.46 274.85 1108.92 276.44 1018.38 276.83 1005.43 277.02 1002.27 277.20 1001.23 277.40 1002.32 277.59 1005.50 277.99 1018.14 279.62 1110.62 280.02 1126.27 280.40 1133.45 280.50 1133.96 280.60 1133.89 280.81 1131.90 281.23 1120.50 283.01 1021.69 283.44 1006.46 283.66 1002.59 283.87 1001.24 284.07 1002.41 284.28 1006.15 284.71 1021.48 286.51 1120.91 286.97 1132.60 287.19 1134.00 287.41 1132.54 287.76 1124.47 288.14 1108.92 289.73 1018.34 290.12 1005.42 290.31 1002.30 290.50 1001.27 290.71 1002.58 290.92 1006.39 291.36 1021.56 293.13 1119.90 293.52 1131.19 293.71 1133.60 293.81 1133.99 293.90 1133.84 294.30 1127.65 294.71 1111.99 296.39 1017.73 296.78 1005.41 296.97 1002.24 297.16 1001.19 297.35 1002.23 297.53 1005.38 297.93 1018.59 299.52 1108.79 299.90 1124.37 300.25 1132.51 300.47 1134.00 300.69 1132.62 301.15 1121.03 302.96 1020.93 303.39 1006.02 303.59 1002.49 303.79 1001.32 304.00 1002.69 304.22 1006.52 304.65 1021.53 306.40 1119.40 306.79 1130.82 306.97 1133.39 307.16 1133.95 307.36 1132.30 307.57 1128.17 307.99 1112.59 309.69 1017.51 310.08 1005.27 310.26 1002.20 310.45 1001.13 310.64 1002.19 310.82 1005.40 311.22 1018.63 312.80 1108.46 313.19 1124.35 313.54 1132.52 313.76 1134.00 313.98 1132.62 314.44 1121.05 316.26 1020.59 316.68 1006.00 316.88 1002.53 317.08 1001.39 317.29 1002.72 317.51 1006.49 317.93 1021.19 319.69 1119.42 320.07 1130.69 320.26 1133.33 320.44 1133.98 320.64 1132.49 320.84 1128.50 321.27 1112.88 322.98 1017.59 323.37 1005.14 323.56 1002.06 323.74 1001.04 323.93 1002.14 324.11 1005.43 324.52 1019.27 326.09 1108.13 326.47 1124.11 326.83 1132.52 327.05 1134.00 327.27 1132.61 327.73 1121.08 329.55 1020.19 329.97 1005.96 330.17 1002.61 330.37 1001.53 330.58 1002.79 330.80 1006.42 331.21 1020.51 332.98 1119.48 333.36 1130.56 333.54 1133.26 333.72 1133.99 333.92 1132.59 334.13 1128.65 334.57 1112.54 336.25 1018.32 336.66 1005.15 336.85 1001.89 337.03 1000.80 337.21 1001.93 337.40 1005.50 337.83 1020.30 339.36 1107.45 339.76 1124.03 340.12 1132.54 340.34 1134.00 340.56 1132.60 341.02 1121.21 342.88 1018.28 343.25 1005.94 343.44 1003.09 343.66 1002.15 343.86 1002.98 344.04 1005.23 344.37 1014.31 346.17 1115.65 346.59 1129.33 346.80 1132.91 347.02 1134.01 347.21 1132.65 347.40 1128.80 347.87 1111.62 348.36 1087.37 349.07 1038.67 349.76 1016.43 350.51 932.83 350.77 919.66 351.08 935.11 352.81 1103.24 353.22 1126.09 353.44 1132.06 353.64 1134.01 353.82 1132.39 353.99 1127.40 354.37 1107.27 356.03 952.76 356.53 921.55 356.75 914.21 356.94 911.85 357.14 914.16 357.36 921.47 357.86 950.92 359.55 1108.84 359.92 1127.94 360.10 1132.57 360.28 1134.00 360.49 1131.76 360.69 1125.52 361.12 1100.71 362.87 937.68 363.22 919.59 363.40 914.97 363.59 913.19" stroke="#34209a" stroke-width="1.6" fill="none" stroke-linejoin="round"/><line x1="84.5" y1="1134" x2="363.59" y2="948.15" stroke="#5b9bd5" stroke-width="1.35" stroke-dasharray="6 5"/><text id="Lg" class="let serif" transform="translate(111.50,901.05) scale(0.9848,0.9895)" x="0" y="0">g</text></g>
<g id="ph"><line x1="427.9" y1="1022.5" x2="716.14" y2="1022.5" stroke="#b4b4b4" stroke-width="1"/><line x1="427.9" y1="1133.96" x2="710.14" y2="1133.96" stroke="#6e6e6e" stroke-width="1.2"/><line x1="427.9" y1="911.04" x2="427.9" y2="1133.96" stroke="#6e6e6e" stroke-width="1.2"/><path d="M427.9 1130.36V1137.56M441.34 1132.36V1135.56M454.78 1130.36V1137.56M468.22 1132.36V1135.56M481.66 1130.36V1137.56M495.1 1132.36V1135.56M508.54 1130.36V1137.56M521.98 1132.36V1135.56M535.42 1130.36V1137.56M548.86 1132.36V1135.56M562.3 1130.36V1137.56M575.74 1132.36V1135.56M589.18 1130.36V1137.56M602.62 1132.36V1135.56M616.06 1130.36V1137.56M629.5 1132.36V1135.56M642.94 1130.36V1137.56M656.38 1132.36V1135.56M669.82 1130.36V1137.56M683.26 1132.36V1135.56M696.7 1130.36V1137.56M710.14 1132.36V1135.56M426.3 1125H429.5M424.3 1104.5H431.5M426.3 1084H429.5M424.3 1063.5H431.5M426.3 1043H429.5M424.3 1022.5H431.5M426.3 1002H429.5M424.3 981.5H431.5M426.3 961H429.5M424.3 940.5H431.5M426.3 920H429.5" stroke="#555555" stroke-width="1" fill="none"/><text x="427.9" y="1151.96" text-anchor="middle">0</text><text x="481.66" y="1151.96" text-anchor="middle">40</text><text x="535.42" y="1151.96" text-anchor="middle">80</text><text x="589.18" y="1151.96" text-anchor="middle">120</text><text x="642.94" y="1151.96" text-anchor="middle">160</text><text x="696.7" y="1151.96" text-anchor="middle">200</text><text x="420.3" y="1109.8" text-anchor="end">-20</text><text x="420.3" y="1068.8" text-anchor="end">-10</text><text x="420.3" y="1027.8" text-anchor="end">0</text><text x="420.3" y="986.8" text-anchor="end">10</text><text x="420.3" y="945.8" text-anchor="end">20</text><path d="M427.90 1022.50 428.23 936.11 428.50 911.04 429.26 965.22 429.78 980.04 430.50 1014.25 430.80 1020.10 431.00 1021.98 431.18 1022.64 431.39 1021.37 431.60 1017.21 432.32 992.13 433.42 937.59 434.15 921.94 434.45 918.61 434.63 919.98 434.81 924.30 435.51 951.12 436.72 1007.52 437.15 1018.59 437.34 1021.48 437.52 1022.54 437.70 1021.78 437.89 1019.18 438.33 1007.94 439.74 943.25 440.32 924.00 440.51 920.18 440.69 918.99 440.86 919.96 441.06 923.04 441.57 936.31 443.06 1004.49 443.51 1018.02 443.71 1021.33 443.91 1022.51 444.10 1021.80 444.30 1019.27 444.69 1009.35 446.29 936.60 446.59 926.49 446.86 921.54 447.09 920.46 447.34 921.71 447.81 930.28 449.55 1007.70 449.95 1018.96 450.14 1021.64 450.34 1022.54 450.54 1021.59 450.73 1018.80 451.14 1007.31 452.80 932.27 453.19 923.45 453.40 921.00 453.59 920.18 453.77 921.00 453.95 923.50 454.31 934.01 456.05 1011.46 456.47 1020.79 456.68 1022.43 456.78 1022.51 456.87 1022.12 457.23 1016.46 457.65 1003.29 459.15 934.68 459.58 923.17 459.77 920.39 459.95 919.50 460.14 920.56 460.34 923.89 460.81 937.92 462.41 1009.87 462.78 1019.30 463.11 1022.52 463.29 1021.88 463.48 1019.66 463.86 1010.32 465.54 935.17 465.94 923.52 466.12 920.79 466.30 919.90 466.49 920.83 466.69 923.50 467.10 933.69 468.65 1004.13 469.04 1016.55 469.40 1022.11 469.50 1022.49 469.60 1022.44 469.79 1020.96 470.19 1012.48 471.94 934.46 472.33 923.90 472.53 921.25 472.74 920.34 472.94 921.18 473.14 923.73 473.52 934.20 475.30 1012.81 475.73 1021.44 475.94 1022.54 476.15 1021.46 476.49 1015.05 476.87 1002.42 478.35 934.58 478.77 923.59 478.97 920.77 479.17 919.81 479.36 920.79 479.54 923.73 479.96 936.09 481.63 1010.81 482.04 1020.37 482.24 1022.28 482.33 1022.53 482.43 1022.34 482.80 1017.20 483.21 1004.83 484.82 932.51 485.19 922.77 485.52 919.69 485.70 920.55 485.89 923.17 486.30 933.96 487.84 1003.93 488.25 1016.63 488.61 1022.14 488.70 1022.50 488.80 1022.41 489.00 1020.75 489.41 1011.71 491.15 934.49 491.53 923.69 491.72 921.07 491.91 920.20 492.12 921.14 492.33 923.90 492.74 934.84 494.51 1013.11 494.93 1021.52 495.15 1022.53 495.36 1021.40 495.68 1015.34 496.05 1003.23 497.57 933.48 497.97 923.53 498.17 920.96 498.37 920.10 498.55 920.96 498.74 923.65 499.13 934.83 500.83 1010.84 501.22 1020.08 501.41 1022.12 501.50 1022.51 501.59 1022.47 501.97 1017.82 502.40 1005.25 504.00 933.17 504.39 922.96 504.58 920.44 504.74 919.64 504.91 920.43 505.09 922.88 505.47 932.96 507.05 1004.52 507.46 1017.05 507.84 1022.31 507.94 1022.53 508.03 1022.31 508.22 1020.46 508.63 1011.07 510.33 935.29 510.74 923.54 510.92 920.83 511.11 919.92 511.30 920.87 511.50 923.59 511.92 934.23 513.41 1002.65 513.78 1015.08 514.12 1021.38 514.33 1022.53 514.54 1021.52 514.97 1013.01 516.75 934.38 517.13 923.86 517.34 921.23 517.54 920.34 517.75 921.20 517.94 923.77 518.32 934.27 520.07 1012.08 520.47 1020.85 520.68 1022.44 520.78 1022.51 520.87 1022.12 521.23 1016.52 521.63 1003.89 523.16 934.27 523.58 923.49 523.78 920.70 523.97 919.77 524.15 920.68 524.34 923.59 524.76 935.99 526.42 1010.26 526.80 1019.77 526.99 1021.95 527.17 1022.51 527.51 1019.04 527.88 1009.50 529.48 937.51 529.94 923.74 530.12 920.63 530.31 919.56 530.49 920.48 530.69 923.31 531.13 934.76 532.63 1003.47 533.04 1016.49 533.40 1022.12 533.50 1022.51 533.61 1022.39 533.81 1020.71 534.22 1011.71 535.96 933.84 536.33 923.57 536.50 921.18 536.69 920.37 536.91 921.30 537.13 924.04 537.54 934.43 539.32 1013.61 539.74 1021.62 539.95 1022.53 540.16 1021.42 540.49 1015.31 540.84 1003.26 542.36 933.55 542.76 923.93 542.99 921.17 543.21 920.21 543.38 920.99 543.54 923.27 543.89 933.43 545.61 1010.22 545.99 1019.55 546.18 1021.87 546.36 1022.54 546.70 1019.29 547.07 1009.70 548.58 941.03 549.16 923.86 549.37 920.09 549.56 918.87 549.73 919.95 549.90 923.08 550.40 938.11 551.76 1000.98 552.17 1014.37 552.53 1021.43 552.74 1022.51 552.97 1020.97 553.48 1009.88 555.28 930.30 555.55 921.72 555.79 919.10 556.11 922.33 556.80 935.37 557.69 980.73 558.41 1009.01 558.77 1019.71 558.94 1021.90 559.13 1022.49 559.48 1020.44 559.73 1015.39 560.42 983.64 560.94 968.85 561.70 913.13 561.97 937.30 562.58 1098.55 562.90 1131.87 563.66 1076.15 564.18 1061.36 564.87 1029.61 565.12 1024.56 565.47 1022.51 565.66 1023.10 565.83 1025.29 566.19 1035.99 566.91 1064.27 567.80 1109.63 568.49 1122.67 568.81 1125.90 569.05 1123.28 569.32 1114.70 571.12 1035.12 571.63 1024.03 571.86 1022.49 572.07 1023.57 572.43 1030.63 572.84 1044.02 574.20 1106.89 574.70 1121.92 574.87 1125.05 575.04 1126.13 575.23 1124.91 575.44 1121.14 576.02 1103.97 577.53 1035.30 577.90 1025.71 578.24 1022.46 578.42 1023.13 578.61 1025.45 578.99 1034.78 580.71 1111.57 581.06 1121.73 581.22 1124.01 581.39 1124.79 581.61 1123.83 581.84 1121.07 582.24 1111.45 583.76 1041.74 584.11 1029.69 584.44 1023.58 584.65 1022.47 584.86 1023.38 585.28 1031.39 587.06 1110.57 587.47 1120.96 587.69 1123.70 587.91 1124.63 588.10 1123.82 588.27 1121.43 588.64 1111.16 590.38 1033.29 590.79 1024.29 590.99 1022.61 591.10 1022.49 591.20 1022.88 591.56 1028.51 591.97 1041.53 593.47 1110.24 593.91 1121.69 594.11 1124.52 594.29 1125.44 594.48 1124.37 594.66 1121.26 595.12 1107.49 596.72 1035.50 597.09 1025.96 597.43 1022.49 597.61 1023.05 597.80 1025.23 598.18 1034.74 599.84 1109.01 600.26 1121.41 600.45 1124.32 600.63 1125.23 600.82 1124.30 601.02 1121.51 601.44 1110.73 602.97 1041.11 603.37 1028.48 603.73 1022.88 603.82 1022.49 603.92 1022.56 604.13 1024.15 604.53 1032.92 606.28 1110.73 606.66 1121.23 606.85 1123.80 607.06 1124.66 607.26 1123.77 607.47 1121.14 607.85 1110.62 609.63 1031.99 610.06 1023.48 610.27 1022.47 610.48 1023.62 610.82 1029.92 611.19 1042.35 612.68 1110.77 613.10 1121.41 613.30 1124.13 613.49 1125.08 613.68 1124.17 613.86 1121.46 614.27 1109.71 615.97 1033.93 616.38 1024.54 616.57 1022.69 616.66 1022.47 616.76 1022.69 617.14 1027.95 617.55 1040.48 619.13 1112.04 619.51 1122.12 619.69 1124.57 619.86 1125.36 620.02 1124.56 620.21 1122.04 620.60 1111.83 622.20 1039.75 622.63 1027.18 623.01 1022.53 623.10 1022.49 623.19 1022.88 623.38 1024.92 623.77 1034.16 625.47 1110.17 625.86 1121.35 626.05 1124.04 626.23 1124.90 626.43 1124.04 626.63 1121.47 627.03 1111.52 628.55 1041.77 628.92 1029.66 629.24 1023.60 629.45 1022.47 629.67 1023.48 630.09 1031.89 631.86 1110.16 632.27 1121.10 632.48 1123.86 632.69 1124.80 632.88 1123.93 633.07 1121.31 633.45 1110.51 635.19 1033.29 635.60 1024.25 635.80 1022.59 635.90 1022.50 635.99 1022.86 636.35 1028.37 636.76 1041.07 638.30 1111.04 638.71 1121.83 638.90 1124.45 639.08 1125.31 639.41 1122.23 639.78 1112.49 641.39 1040.17 641.80 1027.80 642.17 1022.66 642.27 1022.47 642.36 1022.72 642.56 1024.63 642.97 1034.19 644.64 1108.91 645.06 1121.27 645.24 1124.21 645.43 1125.19 645.63 1124.23 645.83 1121.41 646.25 1110.42 647.73 1042.58 648.11 1029.95 648.45 1023.54 648.66 1022.46 648.87 1023.56 649.30 1032.19 651.08 1110.80 651.46 1121.27 651.66 1123.82 651.86 1124.66 652.07 1123.75 652.27 1121.10 652.66 1110.54 654.41 1032.52 654.81 1024.04 655.00 1022.56 655.10 1022.51 655.20 1022.89 655.56 1028.45 655.95 1040.87 657.50 1111.31 657.91 1121.50 658.11 1124.17 658.30 1125.10 658.48 1124.21 658.66 1121.48 659.06 1109.83 660.74 1034.68 661.12 1025.34 661.31 1023.12 661.49 1022.48 661.82 1025.70 662.19 1035.13 663.79 1107.08 664.26 1121.11 664.46 1124.44 664.65 1125.50 664.83 1124.61 665.02 1121.83 665.45 1110.32 666.95 1041.71 667.37 1028.54 667.73 1022.88 667.82 1022.49 667.92 1022.57 668.13 1024.21 668.55 1033.54 670.29 1110.99 670.65 1121.50 670.83 1124.00 671.01 1124.82 671.20 1124.00 671.41 1121.55 671.80 1112.73 673.46 1037.69 673.87 1026.20 674.06 1023.41 674.26 1022.46 674.46 1023.36 674.65 1026.04 675.05 1037.30 676.79 1114.72 677.26 1123.29 677.51 1124.54 677.74 1123.46 678.01 1118.51 678.31 1108.40 679.91 1035.65 680.30 1025.73 680.50 1023.20 680.69 1022.49 680.89 1023.67 681.09 1026.98 681.54 1040.51 683.03 1108.69 683.54 1121.96 683.74 1125.04 683.91 1126.01 684.09 1124.82 684.28 1121.00 684.86 1101.75 686.27 1037.06 686.71 1025.82 686.90 1023.22 687.08 1022.46 687.26 1023.52 687.45 1026.41 687.88 1037.48 689.09 1093.88 689.79 1120.70 689.97 1125.02 690.15 1126.39 690.45 1123.06 691.18 1107.41 692.28 1052.87 693.00 1027.79 693.21 1023.63 693.42 1022.36 693.60 1023.02 693.80 1024.90 694.10 1030.75 694.82 1064.96 695.34 1079.78 696.10 1133.96 696.38 1107.64 696.98 946.88 697.28 911.20 697.46 916.69 698.06 965.22 698.58 980.04 699.29 1014.05 699.58 1019.84 699.95 1022.63 700.17 1021.61 700.39 1017.57 701.10 992.89 702.22 937.81 703.14 919.12 703.29 918.65 703.43 919.98 703.74 928.90 705.55 1008.41 705.95 1018.72 706.31 1022.52 706.50 1021.78 706.71 1018.80 707.20 1005.66 708.33 951.79 709.14 923.50 709.37 919.58 709.47 919.00 709.58 919.26 710.14 929.66" stroke="#34209a" stroke-width="1.6" fill="none" stroke-linejoin="round"/><text id="Lh" class="let" transform="translate(457.00,905.00) scale(1.0000,1.0070)" x="0" y="0">h</text></g>
<text id="y1" class="ttl" transform="translate(24.1,1225) rotate(-90)" x="411.96" y="0" textLength="108.86" lengthAdjust="spacingAndGlyphs">Dissipative</text>
<text id="y2" class="ttl" transform="translate(24.1,1225) rotate(-90)" x="532.49" y="0" textLength="51.38" lengthAdjust="spacingAndGlyphs">force</text>
<text id="y3" class="ttl it" transform="translate(23.8,1225) rotate(-90)" x="595.00" y="0" textLength="13.69" lengthAdjust="spacingAndGlyphs">F</text>
<text id="y4" class="ttl it sub" transform="translate(30.2,1225) rotate(-90)" x="608.83" y="0" textLength="34.18" lengthAdjust="spacingAndGlyphs">diss</text>
<text id="y5" class="ttl" transform="translate(24.1,1225) rotate(-90)" x="656.36" y="0" textLength="93.74" lengthAdjust="spacingAndGlyphs">[arbitrary</text>
<text id="y6" class="ttl" transform="translate(24.1,1225) rotate(-90)" x="764.34" y="0" textLength="57.14" lengthAdjust="spacingAndGlyphs">units]</text>
<text id="x1" class="ttl" x="310.99" y="1216.7" textLength="49.52" lengthAdjust="spacingAndGlyphs">Time</text>
<text id="x2" class="ttl it" x="366.69" y="1216.9" textLength="8.06" lengthAdjust="spacingAndGlyphs">t</text>
<text id="x3" class="ttl sr" x="386.53" y="1217.2" textLength="67.72" lengthAdjust="spacingAndGlyphs">[2π/<tspan class="it">ω</tspan></text>
<text id="x4" class="ttl sr sub" x="453.24" y="1220.6" textLength="36.08" lengthAdjust="spacingAndGlyphs">max</text>
<text id="x5" class="ttl sr" x="490.79" y="1217.2" textLength="8.74" lengthAdjust="spacingAndGlyphs">]</text>
</svg>
</body></html>
